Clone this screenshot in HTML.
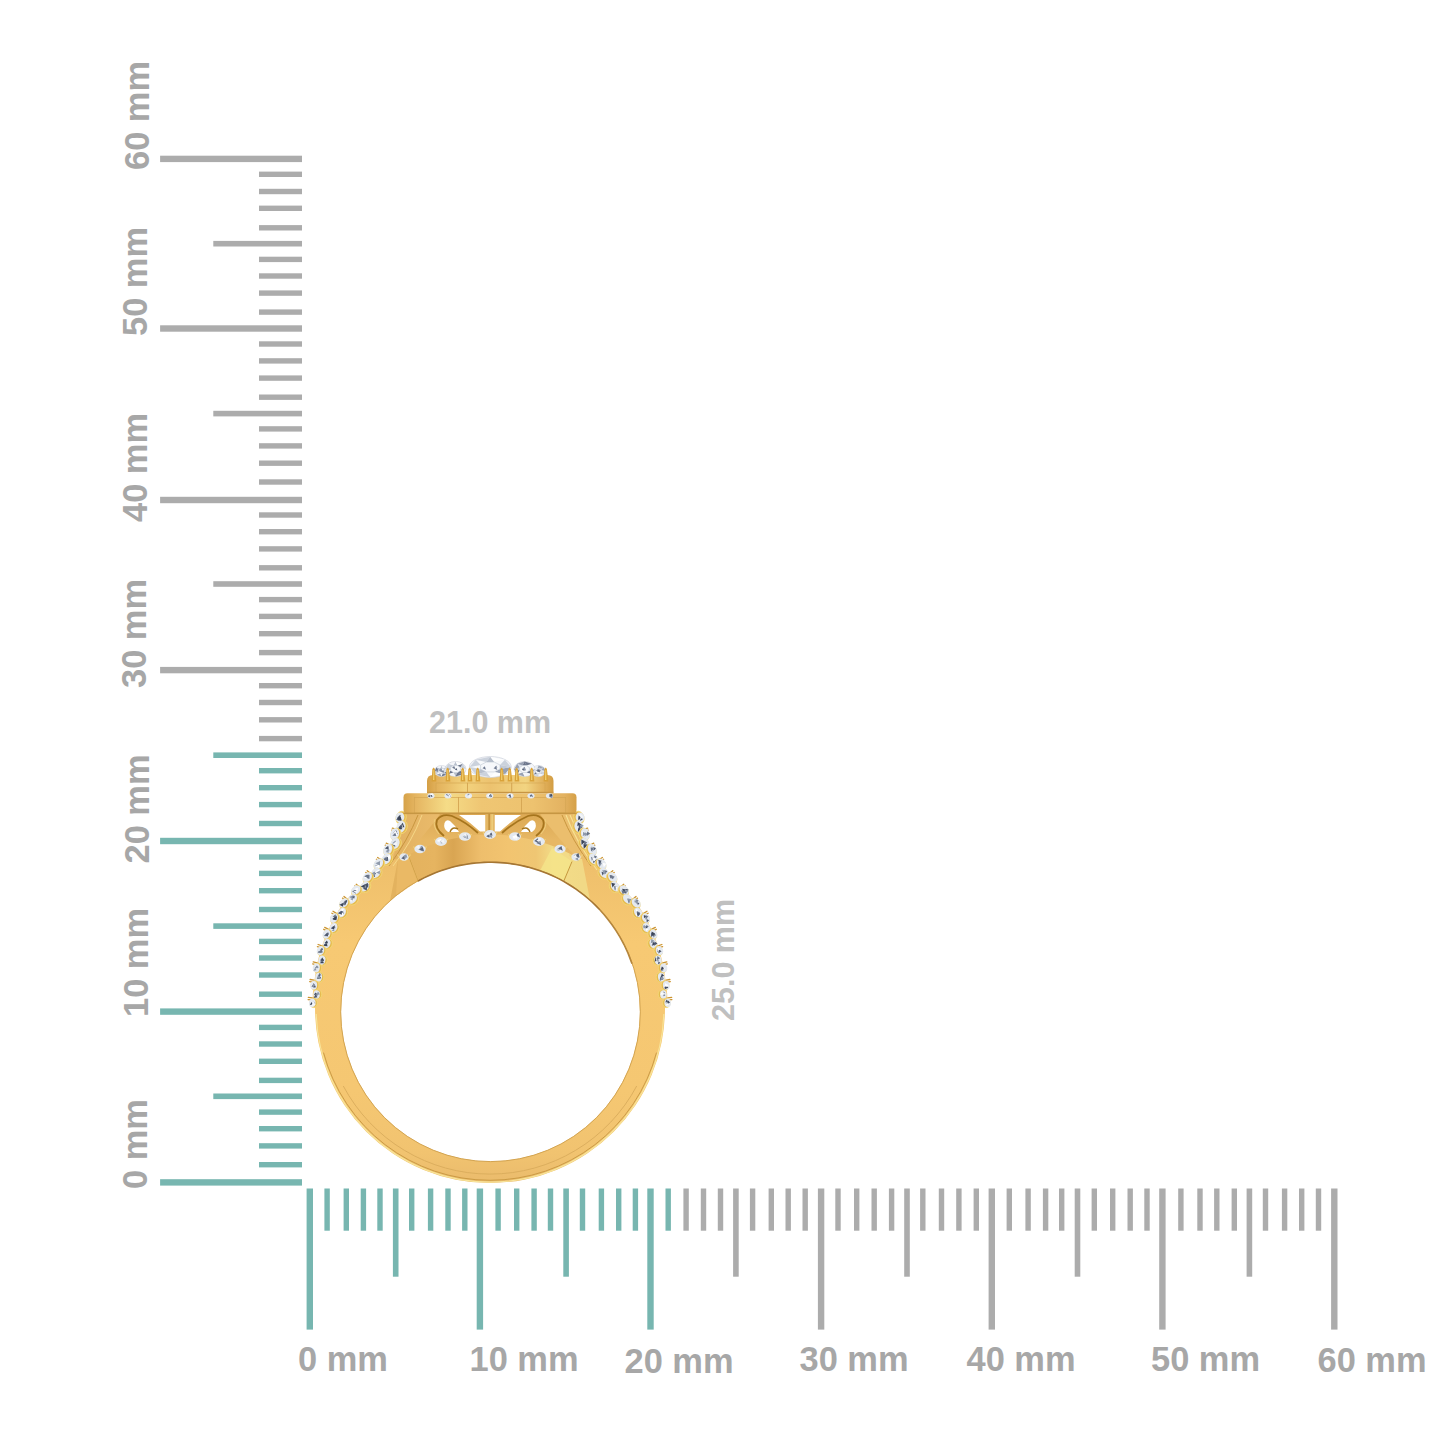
<!DOCTYPE html>
<html><head><meta charset="utf-8"><title>Ring size</title>
<style>
html,body{margin:0;padding:0;background:#fff;width:1445px;height:1445px;overflow:hidden}
svg{display:block}
.lb{font-family:"Liberation Sans",Arial,sans-serif;font-weight:bold;font-size:35.5px;fill:#a7a7a7}
.lb2{font-family:"Liberation Sans",Arial,sans-serif;font-weight:bold;font-size:30.5px;fill:#c0c0c0}
</style></head><body>
<svg width="1445" height="1445" viewBox="0 0 1445 1445">
<rect width="1445" height="1445" fill="#fff"/>
<g>
<rect x="160.1" y="1179.20" width="141.9" height="6.4" fill="#77b6b0"/>
<rect x="259.0" y="1162.00" width="43.0" height="5.4" fill="#77b6b0"/>
<rect x="259.0" y="1143.20" width="43.0" height="5.4" fill="#77b6b0"/>
<rect x="259.0" y="1126.00" width="43.0" height="5.4" fill="#77b6b0"/>
<rect x="259.0" y="1109.40" width="43.0" height="5.4" fill="#77b6b0"/>
<rect x="213.3" y="1093.50" width="88.7" height="5.6" fill="#77b6b0"/>
<rect x="259.0" y="1077.70" width="43.0" height="5.4" fill="#77b6b0"/>
<rect x="259.0" y="1058.60" width="43.0" height="5.4" fill="#77b6b0"/>
<rect x="259.0" y="1041.30" width="43.0" height="5.4" fill="#77b6b0"/>
<rect x="259.0" y="1024.70" width="43.0" height="5.4" fill="#77b6b0"/>
<rect x="160.1" y="1008.40" width="141.9" height="6.4" fill="#77b6b0"/>
<rect x="259.0" y="991.50" width="43.0" height="5.4" fill="#77b6b0"/>
<rect x="259.0" y="972.30" width="43.0" height="5.4" fill="#77b6b0"/>
<rect x="259.0" y="955.30" width="43.0" height="5.4" fill="#77b6b0"/>
<rect x="259.0" y="938.70" width="43.0" height="5.4" fill="#77b6b0"/>
<rect x="213.3" y="923.30" width="88.7" height="5.6" fill="#77b6b0"/>
<rect x="259.0" y="906.80" width="43.0" height="5.4" fill="#77b6b0"/>
<rect x="259.0" y="888.00" width="43.0" height="5.4" fill="#77b6b0"/>
<rect x="259.0" y="870.70" width="43.0" height="5.4" fill="#77b6b0"/>
<rect x="259.0" y="854.30" width="43.0" height="5.4" fill="#77b6b0"/>
<rect x="160.1" y="837.80" width="141.9" height="6.4" fill="#77b6b0"/>
<rect x="259.0" y="820.80" width="43.0" height="5.4" fill="#77b6b0"/>
<rect x="259.0" y="801.90" width="43.0" height="5.4" fill="#77b6b0"/>
<rect x="259.0" y="785.00" width="43.0" height="5.4" fill="#77b6b0"/>
<rect x="259.0" y="768.00" width="43.0" height="5.4" fill="#77b6b0"/>
<rect x="213.3" y="752.40" width="88.7" height="5.6" fill="#77b6b0"/>
<rect x="259.0" y="735.90" width="43.0" height="5.4" fill="#acacac"/>
<rect x="259.0" y="717.10" width="43.0" height="5.4" fill="#acacac"/>
<rect x="259.0" y="699.80" width="43.0" height="5.4" fill="#acacac"/>
<rect x="259.0" y="683.00" width="43.0" height="5.4" fill="#acacac"/>
<rect x="160.1" y="666.90" width="141.9" height="6.4" fill="#acacac"/>
<rect x="259.0" y="649.90" width="43.0" height="5.4" fill="#acacac"/>
<rect x="259.0" y="631.00" width="43.0" height="5.4" fill="#acacac"/>
<rect x="259.0" y="613.70" width="43.0" height="5.4" fill="#acacac"/>
<rect x="259.0" y="596.90" width="43.0" height="5.4" fill="#acacac"/>
<rect x="213.3" y="581.20" width="88.7" height="5.6" fill="#acacac"/>
<rect x="259.0" y="565.10" width="43.0" height="5.4" fill="#acacac"/>
<rect x="259.0" y="546.20" width="43.0" height="5.4" fill="#acacac"/>
<rect x="259.0" y="529.00" width="43.0" height="5.4" fill="#acacac"/>
<rect x="259.0" y="512.30" width="43.0" height="5.4" fill="#acacac"/>
<rect x="160.1" y="496.80" width="141.9" height="6.4" fill="#acacac"/>
<rect x="259.0" y="479.30" width="43.0" height="5.4" fill="#acacac"/>
<rect x="259.0" y="460.50" width="43.0" height="5.4" fill="#acacac"/>
<rect x="259.0" y="443.20" width="43.0" height="5.4" fill="#acacac"/>
<rect x="259.0" y="426.20" width="43.0" height="5.4" fill="#acacac"/>
<rect x="213.3" y="410.80" width="88.7" height="5.6" fill="#acacac"/>
<rect x="259.0" y="394.50" width="43.0" height="5.4" fill="#acacac"/>
<rect x="259.0" y="375.40" width="43.0" height="5.4" fill="#acacac"/>
<rect x="259.0" y="358.20" width="43.0" height="5.4" fill="#acacac"/>
<rect x="259.0" y="341.30" width="43.0" height="5.4" fill="#acacac"/>
<rect x="160.1" y="325.30" width="141.9" height="6.4" fill="#acacac"/>
<rect x="259.0" y="309.40" width="43.0" height="5.4" fill="#acacac"/>
<rect x="259.0" y="290.40" width="43.0" height="5.4" fill="#acacac"/>
<rect x="259.0" y="273.30" width="43.0" height="5.4" fill="#acacac"/>
<rect x="259.0" y="256.70" width="43.0" height="5.4" fill="#acacac"/>
<rect x="213.3" y="240.90" width="88.7" height="5.6" fill="#acacac"/>
<rect x="259.0" y="225.10" width="43.0" height="5.4" fill="#acacac"/>
<rect x="259.0" y="205.60" width="43.0" height="5.4" fill="#acacac"/>
<rect x="259.0" y="188.80" width="43.0" height="5.4" fill="#acacac"/>
<rect x="259.0" y="171.60" width="43.0" height="5.4" fill="#acacac"/>
<rect x="160.1" y="155.70" width="141.9" height="6.4" fill="#acacac"/>
<rect x="306.60" y="1188.5" width="6.4" height="141.1" fill="#77b6b0"/>
<rect x="324.40" y="1188.5" width="5.4" height="42.2" fill="#77b6b0"/>
<rect x="343.60" y="1188.5" width="5.4" height="42.2" fill="#77b6b0"/>
<rect x="360.70" y="1188.5" width="5.4" height="42.2" fill="#77b6b0"/>
<rect x="377.30" y="1188.5" width="5.4" height="42.2" fill="#77b6b0"/>
<rect x="392.90" y="1188.5" width="5.6" height="88.2" fill="#77b6b0"/>
<rect x="409.00" y="1188.5" width="5.4" height="42.2" fill="#77b6b0"/>
<rect x="427.90" y="1188.5" width="5.4" height="42.2" fill="#77b6b0"/>
<rect x="445.30" y="1188.5" width="5.4" height="42.2" fill="#77b6b0"/>
<rect x="462.10" y="1188.5" width="5.4" height="42.2" fill="#77b6b0"/>
<rect x="476.70" y="1188.5" width="6.4" height="141.1" fill="#77b6b0"/>
<rect x="495.40" y="1188.5" width="5.4" height="42.2" fill="#77b6b0"/>
<rect x="514.00" y="1188.5" width="5.4" height="42.2" fill="#77b6b0"/>
<rect x="531.40" y="1188.5" width="5.4" height="42.2" fill="#77b6b0"/>
<rect x="547.80" y="1188.5" width="5.4" height="42.2" fill="#77b6b0"/>
<rect x="563.30" y="1188.5" width="5.6" height="88.2" fill="#77b6b0"/>
<rect x="579.80" y="1188.5" width="5.4" height="42.2" fill="#77b6b0"/>
<rect x="598.70" y="1188.5" width="5.4" height="42.2" fill="#77b6b0"/>
<rect x="616.00" y="1188.5" width="5.4" height="42.2" fill="#77b6b0"/>
<rect x="632.70" y="1188.5" width="5.4" height="42.2" fill="#77b6b0"/>
<rect x="647.30" y="1188.5" width="6.4" height="141.1" fill="#77b6b0"/>
<rect x="665.50" y="1188.5" width="5.4" height="42.2" fill="#77b6b0"/>
<rect x="683.40" y="1188.5" width="5.4" height="42.2" fill="#acacac"/>
<rect x="700.80" y="1188.5" width="5.4" height="42.2" fill="#acacac"/>
<rect x="717.80" y="1188.5" width="5.4" height="42.2" fill="#acacac"/>
<rect x="733.10" y="1188.5" width="5.6" height="88.2" fill="#acacac"/>
<rect x="749.90" y="1188.5" width="5.4" height="42.2" fill="#acacac"/>
<rect x="768.60" y="1188.5" width="5.4" height="42.2" fill="#acacac"/>
<rect x="785.50" y="1188.5" width="5.4" height="42.2" fill="#acacac"/>
<rect x="802.50" y="1188.5" width="5.4" height="42.2" fill="#acacac"/>
<rect x="817.90" y="1188.5" width="6.4" height="141.1" fill="#acacac"/>
<rect x="835.30" y="1188.5" width="5.4" height="42.2" fill="#acacac"/>
<rect x="854.00" y="1188.5" width="5.4" height="42.2" fill="#acacac"/>
<rect x="871.50" y="1188.5" width="5.4" height="42.2" fill="#acacac"/>
<rect x="888.90" y="1188.5" width="5.4" height="42.2" fill="#acacac"/>
<rect x="904.20" y="1188.5" width="5.6" height="88.2" fill="#acacac"/>
<rect x="920.10" y="1188.5" width="5.4" height="42.2" fill="#acacac"/>
<rect x="938.80" y="1188.5" width="5.4" height="42.2" fill="#acacac"/>
<rect x="956.20" y="1188.5" width="5.4" height="42.2" fill="#acacac"/>
<rect x="973.60" y="1188.5" width="5.4" height="42.2" fill="#acacac"/>
<rect x="988.60" y="1188.5" width="6.4" height="141.1" fill="#acacac"/>
<rect x="1006.60" y="1188.5" width="5.4" height="42.2" fill="#acacac"/>
<rect x="1025.40" y="1188.5" width="5.4" height="42.2" fill="#acacac"/>
<rect x="1042.90" y="1188.5" width="5.4" height="42.2" fill="#acacac"/>
<rect x="1059.00" y="1188.5" width="5.4" height="42.2" fill="#acacac"/>
<rect x="1074.70" y="1188.5" width="5.6" height="88.2" fill="#acacac"/>
<rect x="1091.60" y="1188.5" width="5.4" height="42.2" fill="#acacac"/>
<rect x="1110.00" y="1188.5" width="5.4" height="42.2" fill="#acacac"/>
<rect x="1127.50" y="1188.5" width="5.4" height="42.2" fill="#acacac"/>
<rect x="1144.30" y="1188.5" width="5.4" height="42.2" fill="#acacac"/>
<rect x="1159.20" y="1188.5" width="6.4" height="141.1" fill="#acacac"/>
<rect x="1178.20" y="1188.5" width="5.4" height="42.2" fill="#acacac"/>
<rect x="1197.30" y="1188.5" width="5.4" height="42.2" fill="#acacac"/>
<rect x="1214.10" y="1188.5" width="5.4" height="42.2" fill="#acacac"/>
<rect x="1231.60" y="1188.5" width="5.4" height="42.2" fill="#acacac"/>
<rect x="1246.60" y="1188.5" width="5.6" height="88.2" fill="#acacac"/>
<rect x="1262.80" y="1188.5" width="5.4" height="42.2" fill="#acacac"/>
<rect x="1281.90" y="1188.5" width="5.4" height="42.2" fill="#acacac"/>
<rect x="1299.00" y="1188.5" width="5.4" height="42.2" fill="#acacac"/>
<rect x="1315.80" y="1188.5" width="5.4" height="42.2" fill="#acacac"/>
<rect x="1331.10" y="1188.5" width="6.4" height="141.1" fill="#acacac"/>
<text transform="translate(146.50,1189.00) rotate(-90) scale(0.97,1)" class="lb">0 mm</text>
<text transform="translate(147.50,1017.00) rotate(-90) scale(0.97,1)" class="lb">10 mm</text>
<text transform="translate(149.00,863.50) rotate(-90) scale(0.97,1)" class="lb">20 mm</text>
<text transform="translate(146.00,688.00) rotate(-90) scale(0.97,1)" class="lb">30 mm</text>
<text transform="translate(146.50,522.00) rotate(-90) scale(0.97,1)" class="lb">40 mm</text>
<text transform="translate(147.00,336.00) rotate(-90) scale(0.97,1)" class="lb">50 mm</text>
<text transform="translate(149.00,170.00) rotate(-90) scale(0.97,1)" class="lb">60 mm</text>
<text transform="translate(298.00,1371.00) scale(0.97,1)" class="lb">0 mm</text>
<text transform="translate(469.50,1371.00) scale(0.97,1)" class="lb">10 mm</text>
<text transform="translate(624.50,1373.00) scale(0.97,1)" class="lb">20 mm</text>
<text transform="translate(799.50,1370.50) scale(0.97,1)" class="lb">30 mm</text>
<text transform="translate(966.50,1370.50) scale(0.97,1)" class="lb">40 mm</text>
<text transform="translate(1151.00,1371.00) scale(0.97,1)" class="lb">50 mm</text>
<text transform="translate(1317.50,1372.00) scale(0.97,1)" class="lb">60 mm</text>
<text transform="translate(429.00,733.00) scale(1.0,1)" class="lb2">21.0 mm</text>
<text transform="translate(733.50,1021.00) rotate(-90) scale(1.0,1)" class="lb2">25.0 mm</text>
<defs>
<linearGradient id="gBody" x1="0" y1="814" x2="0" y2="1183" gradientUnits="userSpaceOnUse">
 <stop offset="0" stop-color="#e6b460"/>
 <stop offset="0.15" stop-color="#efc06c"/>
 <stop offset="0.35" stop-color="#f7c973"/>
 <stop offset="0.75" stop-color="#f5c772"/>
 <stop offset="0.92" stop-color="#f1c370"/>
 <stop offset="1" stop-color="#eabb6c"/>
</linearGradient>
<linearGradient id="gTier" x1="0" y1="0" x2="1" y2="0">
 <stop offset="0" stop-color="#d6a249"/>
 <stop offset="0.07" stop-color="#e5b561"/>
 <stop offset="0.25" stop-color="#f5dc87"/>
 <stop offset="0.45" stop-color="#efc673"/>
 <stop offset="0.75" stop-color="#edc26f"/>
 <stop offset="0.93" stop-color="#e3b261"/>
 <stop offset="1" stop-color="#d5a047"/>
</linearGradient>
<linearGradient id="gTier2" x1="0" y1="0" x2="1" y2="0">
 <stop offset="0" stop-color="#d49f45"/>
 <stop offset="0.08" stop-color="#e3b25c"/>
 <stop offset="0.3" stop-color="#f3d37e"/>
 <stop offset="0.5" stop-color="#ecc26f"/>
 <stop offset="0.78" stop-color="#f2d481"/>
 <stop offset="0.93" stop-color="#e1af5a"/>
 <stop offset="1" stop-color="#d29d43"/>
</linearGradient>
<linearGradient id="gInner" x1="398" y1="0" x2="582" y2="0" gradientUnits="userSpaceOnUse">
 <stop offset="0" stop-color="#e3b25e"/>
 <stop offset="0.2" stop-color="#e6b460"/>
 <stop offset="0.3" stop-color="#d9a552"/>
 <stop offset="0.45" stop-color="#eebe6c"/>
 <stop offset="0.6" stop-color="#f2c470"/>
 <stop offset="0.75" stop-color="#efc673"/>
 <stop offset="0.85" stop-color="#f3dc88"/>
 <stop offset="1" stop-color="#f1d986"/>
</linearGradient>
<linearGradient id="gGal" x1="0" y1="814" x2="0" y2="840" gradientUnits="userSpaceOnUse">
 <stop offset="0" stop-color="#dca954"/>
 <stop offset="1" stop-color="#e7b764"/>
</linearGradient>
<linearGradient id="gShL" x1="380" y1="0" x2="440" y2="0" gradientUnits="userSpaceOnUse">
 <stop offset="0" stop-color="#dfae5f"/>
 <stop offset="1" stop-color="#eabb6b"/>
</linearGradient>
</defs>
<path d="M405,814 C403.7,816.2 399.1,823.2 397.1,827.4 C395.1,831.6 394.8,835.3 393.2,839.2 C391.5,843.2 389.6,847.1 387.3,851.0 C385.0,854.9 382.2,859.0 379.4,862.8 C376.6,866.6 373.4,870.1 370.5,873.7 C367.5,877.4 364.7,881.2 361.5,884.7 C358.4,888.1 354.7,891.3 351.6,894.6 C348.4,898.0 345.1,901.2 342.4,904.8 C339.7,908.4 337.5,912.1 335.3,916.0 C333.1,919.9 331.0,924.1 329.2,928.2 C327.3,932.2 325.6,936.3 324.1,940.3 C322.6,944.3 321.3,948.4 320.1,952.4 C318.9,956.5 317.9,960.5 317.0,964.6 C316.2,968.6 315.6,972.7 315.0,976.7 C314.4,980.7 313.9,985.4 313.5,988.8 C313.1,992.1 312.6,993.7 312.8,996.9 C313.1,1000.1 314.6,1006.1 315.0,1008.0 A175,175 0 0 0 665.0,1008 L665.0,1008 C665.4,1006.1 666.9,1000.1 667.2,996.9 C667.4,993.7 666.9,992.1 666.5,988.8 C666.1,985.4 665.6,980.7 665.0,976.7 C664.4,972.7 663.8,968.6 663.0,964.6 C662.1,960.5 661.1,956.5 659.9,952.4 C658.7,948.4 657.4,944.3 655.9,940.3 C654.4,936.3 652.7,932.2 650.8,928.2 C649.0,924.1 646.9,919.9 644.7,916.0 C642.5,912.1 640.3,908.4 637.6,904.8 C634.9,901.2 631.6,898.0 628.4,894.6 C625.3,891.3 621.6,888.1 618.5,884.7 C615.3,881.2 612.5,877.4 609.5,873.7 C606.6,870.1 603.4,866.6 600.6,862.8 C597.8,859.0 595.0,854.9 592.7,851.0 C590.4,847.1 588.5,843.2 586.8,839.2 C585.2,835.3 584.9,831.6 582.9,827.4 C580.9,823.2 576.3,816.2 575.0,814.0 Z M341.0,1011.8 A149.5,149.5 0 1 0 640.0,1011.8 A149.5,149.5 0 1 0 341.0,1011.8 Z" fill="url(#gBody)" fill-rule="evenodd"/>
<path d="M405,814 L575,814 L582.0,859 C581.0,858.7 579.7,858.7 576.0,857.0 C572.3,855.3 566.2,851.6 560.0,849.0 C553.8,846.4 546.5,843.6 539.0,841.5 C531.5,839.4 523.2,837.7 515.0,836.5 C506.8,835.3 498.3,834.5 490.0,834.5 C481.7,834.5 473.2,835.3 465.0,836.5 C456.8,837.7 448.5,839.4 441.0,841.5 C433.5,843.6 426.2,846.4 420.0,849.0 C413.8,851.6 407.7,855.3 404.0,857.0 C400.3,858.7 399.0,858.7 398.0,859.0 Z" fill="url(#gGal)"/>
<path d="M405,814 L440,814 Q425,835 404,857 L392,860 Q400,840 405,814 Z" fill="url(#gShL)"/>
<path d="M575,814 L540,814 Q555,835 576,857 L588,860 Q580,840 575,814 Z" fill="#ebbe6d"/>
<path d="M398,859 C399.0,858.7 400.3,858.7 404.0,857.0 C407.7,855.3 413.8,851.6 420.0,849.0 C426.2,846.4 433.5,843.6 441.0,841.5 C448.5,839.4 456.8,837.7 465.0,836.5 C473.2,835.3 481.7,834.5 490.0,834.5 C498.3,834.5 506.8,835.3 515.0,836.5 C523.2,837.7 531.5,839.4 539.0,841.5 C546.5,843.6 553.8,846.4 560.0,849.0 C566.2,851.6 572.3,855.3 576.0,857.0 C579.7,858.7 581.0,858.7 582.0,859.0 L590,900.2 L590.0,900.2 L585.0,896.0 L580.0,892.1 L575.0,888.5 L570.0,885.2 L565.0,882.2 L560.0,879.4 L555.0,876.9 L550.0,874.7 L545.0,872.6 L540.0,870.7 L535.0,869.1 L530.0,867.6 L525.0,866.3 L520.0,865.2 L515.0,864.3 L510.0,863.6 L505.0,863.0 L500.0,862.6 L495.0,862.4 L490.0,862.3 L485.0,862.4 L480.0,862.7 L475.0,863.1 L470.0,863.7 L465.0,864.5 L460.0,865.4 L455.0,866.6 L450.0,867.9 L445.0,869.4 L440.0,871.1 L435.0,873.0 L430.0,875.1 L425.0,877.4 L420.0,880.0 L415.0,882.8 L410.0,885.8 L405.0,889.2 L400.0,892.8 L395.0,896.8 L390.0,901.1 Z" fill="url(#gInner)"/>
<path d="M552,848 L572,861.5 L563.5,881.3 L540,870.7 Z" fill="#f4e48a" opacity="0.85"/>
<path d="M572,861.5 L563.5,881.8" stroke="#c6983e" stroke-width="1"/>
<path d="M408,855 L418,881.6" stroke="#c6983e" stroke-width="1"/>
<path d="M398,859 L408,855 L418,881.1 L396,896.0 Z" fill="#edbc68" opacity="0.7"/>
<path d="M418,815 Q408,840 389,866" fill="none" stroke="#c4923a" stroke-width="0.9"/>
<path d="M422,815 Q412,842 393,866" fill="none" stroke="#f7db8c" stroke-width="0.9"/>
<path d="M562,815 Q572,840 591,866" fill="none" stroke="#c4923a" stroke-width="0.9"/>
<path d="M566,815 Q576,842 597,870" fill="none" stroke="#f7e393" stroke-width="1.1"/>
<path d="M570,815 Q581,842 602,873" fill="none" stroke="#f7e393" stroke-width="1.1"/>
<path d="M459,815 L485.5,815 L485.5,831.5 L480,831.5 Q471,823 459,815 Z" fill="#fff"/>
<path d="M521,815 L494.5,815 L494.5,831.5 L500,831.5 Q509,823 521,815 Z" fill="#fff"/>
<path d="M444.5,823 Q446,819 450,821 Q455,825 459,832 L448,832 Q443,829 444.5,823 Z" fill="#fff"/>
<path d="M535.5,823 Q534,819 530,821 Q525,825 521,832 L532,832 Q537,829 535.5,823 Z" fill="#fff"/>
<path d="M444,836 Q434,828 437,820 Q442,813 452,816 Q466,822 478,833" fill="none" stroke="#a6751d" stroke-width="1.8"/>
<path d="M439,834 Q432,826 435,819" fill="none" stroke="#efcd7a" stroke-width="1"/>
<path d="M450,832 Q452,826 458,829" fill="none" stroke="#a6751d" stroke-width="1.4"/>
<path d="M536,836 Q546,828 543,820 Q538,813 528,816 Q514,822 502,833" fill="none" stroke="#a6751d" stroke-width="1.8"/>
<path d="M541,834 Q548,826 545,819" fill="none" stroke="#efcd7a" stroke-width="1"/>
<path d="M530,832 Q528,826 522,829" fill="none" stroke="#a6751d" stroke-width="1.4"/>
<rect x="485.5" y="814" width="9" height="19" fill="#e5b865"/>
<rect x="488.5" y="814" width="1.2" height="19" fill="#b5822d"/>
<rect x="491.5" y="814" width="1.2" height="19" fill="#f1d483"/>
<circle cx="490.5" cy="1011.8" r="149.8" fill="none" stroke="#d3a451" stroke-width="1.0"/>
<path d="M418,881.1 L420,880.0 L424,877.9 L428,876.0 L432,874.2 L436,872.6 L440,871.1 L444,869.7 L448,868.5 L452,867.3 L456,866.3 L460,865.4 L464,864.7 L468,864.0 L472,863.4 L476,863.0 L480,862.7 L484,862.4 L488,862.3 L492,862.3 L496,862.4 L500,862.6 L504,862.9 L508,863.3 L512,863.9 L516,864.5 L520,865.2 L524,866.1 L528,867.1 L532,868.2 L536,869.4 L540,870.7 L544,872.2 L548,873.8 L552,875.5 L556,877.4 L560,879.4 L564,881.6 L568,884.0 L572,886.5 L576,889.2 L580,892.1 L584,895.1 L588,898.5 L592,902.0 L596,905.9 L600,910.0" fill="none" stroke="#a57634" stroke-width="1.6"/>
<path d="M600,910.0 L604,914.5 L608,919.4 L612,924.7 L616,930.6 L620,937.1 L624,944.5 L628,953.1 L632,963.6" fill="none" stroke="#b5863d" stroke-width="1.6"/>
<path d="M316.2,1014.1 A173.9,173.9 0 0 0 663.8,1014.1" fill="none" stroke="#f8e59a" stroke-width="1.1"/>
<path d="M323.5,1052.6 A172.4,172.4 0 0 0 656.5,1052.6" fill="none" stroke="#c69640" stroke-width="0.9"/>
<path d="M343.3,1086.0 A166.2,166.2 0 0 0 636.7,1086.0" fill="none" stroke="#d9ab5b" stroke-width="0.9"/>
<ellipse cx="401.1" cy="817.7" rx="6.6" ry="5.0" transform="rotate(107 401.1 817.7)" fill="#e6ba4f" stroke="#f2d877" stroke-width="0.8"/>
<g transform="translate(399.9,817.4) rotate(107)"><ellipse rx="5.0" ry="4.4" fill="#e4e9f0"/><path d="M-2.7,0.5 L0.5,-1.9 L1.7,2.6 Z" fill="#3c4558"/><path d="M-2.1,-0.4 L1.0,-2.8 L2.2,1.6 Z" fill="#ffffff"/><path d="M-2.0,0.4 L0.8,-1.7 L1.9,2.2 Z" fill="#4d576c"/><path d="M-1.5,0.7 L2.1,-2.0 L3.4,2.9 Z" fill="#3c4558"/><path d="M-0.5,-0.6 L2.7,-2.9 L3.8,1.4 Z" fill="#3c4558"/></g>
<ellipse cx="402.3" cy="827.2" rx="6.5" ry="4.9" transform="rotate(107 402.3 827.2)" fill="#e6ba4f" stroke="#f2d877" stroke-width="0.8"/>
<g transform="translate(401.0,826.8) rotate(107)"><ellipse rx="6.1" ry="4.4" fill="#e4e9f0"/><path d="M-4.3,-0.5 L-0.5,-3.4 L0.9,1.8 Z" fill="#3c4558"/><path d="M-2.8,-0.2 L-0.0,-2.3 L1.1,1.6 Z" fill="#ffffff"/><path d="M-1.6,0.6 L1.9,-2.0 L3.2,2.8 Z" fill="#4d576c"/><path d="M-0.0,1.0 L2.4,-0.9 L3.3,2.5 Z" fill="#3c4558"/><path d="M-2.1,-0.1 L0.1,-1.8 L0.9,1.3 Z" fill="#4d576c"/></g>
<path d="M392.3,828.1 L396.1,829.2" stroke="#cc942f" stroke-width="1.3" stroke-linecap="round"/>
<path d="M391.7,830.2 L395.5,831.3" stroke="#cc942f" stroke-width="1.3" stroke-linecap="round"/>
<ellipse cx="395.9" cy="834.4" rx="6.4" ry="4.9" transform="rotate(108 395.9 834.4)" fill="#e6ba4f" stroke="#f2d877" stroke-width="0.8"/>
<g transform="translate(394.7,834.0) rotate(108)"><ellipse rx="6.0" ry="4.3" fill="#e4e9f0"/><path d="M-4.6,0.0 L-1.2,-2.5 L0.1,2.2 Z" fill="#8f9aac"/><path d="M-3.5,-0.7 L-0.9,-2.6 L0.1,1.0 Z" fill="#4d576c"/><path d="M-2.6,-0.8 L0.4,-3.0 L1.6,1.2 Z" fill="#ffffff"/><path d="M-3.6,0.0 L-0.7,-2.1 L0.3,1.8 Z" fill="#ffffff"/><path d="M-1.4,-0.1 L1.4,-2.2 L2.4,1.7 Z" fill="#6a7589"/></g>
<ellipse cx="396.2" cy="844.1" rx="6.4" ry="4.8" transform="rotate(117 396.2 844.1)" fill="#e6ba4f" stroke="#f2d877" stroke-width="0.8"/>
<g transform="translate(395.0,843.5) rotate(117)"><ellipse rx="5.9" ry="4.3" fill="#e4e9f0"/><path d="M-0.5,1.1 L1.6,-0.5 L2.4,2.4 Z" fill="#f3f5f9"/><path d="M-0.7,0.7 L2.7,-1.8 L4.0,2.8 Z" fill="#6a7589"/><path d="M-2.9,0.9 L-0.1,-1.3 L1.0,2.7 Z" fill="#8f9aac"/><path d="M-1.3,0.2 L1.2,-1.7 L2.1,1.7 Z" fill="#f3f5f9"/><path d="M-2.7,-0.3 L0.6,-2.7 L1.8,1.7 Z" fill="#f3f5f9"/></g>
<path d="M386.2,843.2 L389.8,845.0" stroke="#cc942f" stroke-width="1.3" stroke-linecap="round"/>
<path d="M385.2,845.2 L388.8,847.0" stroke="#cc942f" stroke-width="1.3" stroke-linecap="round"/>
<ellipse cx="388.9" cy="850.2" rx="6.3" ry="4.8" transform="rotate(117 388.9 850.2)" fill="#e6ba4f" stroke="#f2d877" stroke-width="0.8"/>
<g transform="translate(387.7,849.6) rotate(117)"><ellipse rx="5.9" ry="4.2" fill="#e4e9f0"/><path d="M-4.3,-0.8 L-1.5,-2.9 L-0.5,0.9 Z" fill="#f3f5f9"/><path d="M-3.4,1.2 L-1.3,-0.4 L-0.6,2.4 Z" fill="#8f9aac"/><path d="M-3.5,1.3 L-0.7,-0.9 L0.4,3.1 Z" fill="#4d576c"/><path d="M-1.8,-0.5 L0.7,-2.3 L1.6,1.0 Z" fill="#8f9aac"/><path d="M-0.1,-0.7 L2.2,-2.4 L3.1,0.8 Z" fill="#8f9aac"/></g>
<ellipse cx="387.4" cy="859.6" rx="6.2" ry="4.7" transform="rotate(124 387.4 859.6)" fill="#e6ba4f" stroke="#f2d877" stroke-width="0.8"/>
<g transform="translate(386.3,858.9) rotate(124)"><ellipse rx="5.8" ry="4.2" fill="#e4e9f0"/><path d="M-5.5,-0.7 L-2.1,-3.2 L-0.8,1.4 Z" fill="#ffffff"/><path d="M-2.2,1.1 L0.4,-0.8 L1.3,2.8 Z" fill="#8f9aac"/><path d="M-1.0,-0.1 L1.3,-1.9 L2.2,1.3 Z" fill="#4d576c"/><path d="M-2.7,-0.2 L0.7,-2.7 L1.9,1.9 Z" fill="#4d576c"/><path d="M-2.0,0.2 L0.7,-1.8 L1.7,1.9 Z" fill="#6a7589"/></g>
<path d="M377.6,857.5 L381.0,859.7" stroke="#cc942f" stroke-width="1.3" stroke-linecap="round"/>
<path d="M376.4,859.3 L379.7,861.6" stroke="#cc942f" stroke-width="1.3" stroke-linecap="round"/>
<ellipse cx="379.4" cy="864.6" rx="6.1" ry="4.7" transform="rotate(129 379.4 864.6)" fill="#e6ba4f" stroke="#f2d877" stroke-width="0.8"/>
<g transform="translate(378.3,863.8) rotate(129)"><ellipse rx="5.7" ry="4.1" fill="#e4e9f0"/><path d="M-2.6,-0.6 L-0.4,-2.2 L0.4,0.8 Z" fill="#ffffff"/><path d="M-0.2,-0.5 L3.0,-2.9 L4.2,1.5 Z" fill="#8f9aac"/><path d="M-0.4,-1.2 L3.1,-3.7 L4.3,1.0 Z" fill="#ffffff"/><path d="M-2.8,0.7 L-0.7,-0.9 L0.1,2.0 Z" fill="#f3f5f9"/><path d="M-3.4,0.4 L0.2,-2.3 L1.5,2.6 Z" fill="#8f9aac"/></g>
<ellipse cx="376.8" cy="873.8" rx="6.0" ry="4.6" transform="rotate(129 376.8 873.8)" fill="#e6ba4f" stroke="#f2d877" stroke-width="0.8"/>
<g transform="translate(375.8,872.9) rotate(129)"><ellipse rx="5.6" ry="4.1" fill="#e4e9f0"/><path d="M-0.8,0.8 L1.2,-0.7 L2.0,2.1 Z" fill="#3c4558"/><path d="M-4.4,-0.6 L-0.9,-3.2 L0.4,1.6 Z" fill="#ffffff"/><path d="M0.7,0.3 L3.7,-1.9 L4.8,2.2 Z" fill="#4d576c"/><path d="M-4.3,-1.8 L-1.4,-4.0 L-0.3,0.1 Z" fill="#8f9aac"/><path d="M-0.6,1.5 L3.0,-1.2 L4.3,3.7 Z" fill="#8f9aac"/></g>
<path d="M367.2,870.7 L370.3,873.3" stroke="#cc942f" stroke-width="1.3" stroke-linecap="round"/>
<path d="M365.8,872.4 L368.9,875.0" stroke="#cc942f" stroke-width="1.3" stroke-linecap="round"/>
<ellipse cx="368.3" cy="878.1" rx="5.9" ry="4.6" transform="rotate(129 368.3 878.1)" fill="#e6ba4f" stroke="#f2d877" stroke-width="0.8"/>
<g transform="translate(367.3,877.3) rotate(129)"><ellipse rx="5.5" ry="4.0" fill="#e4e9f0"/><path d="M-2.8,0.1 L-0.7,-1.5 L0.1,1.5 Z" fill="#f3f5f9"/><path d="M-3.0,0.7 L0.2,-1.8 L1.5,2.7 Z" fill="#4d576c"/><path d="M-3.5,-0.1 L-0.0,-2.7 L1.3,2.1 Z" fill="#6a7589"/><path d="M-0.3,1.1 L1.7,-0.4 L2.4,2.4 Z" fill="#ffffff"/><path d="M-2.2,1.6 L-0.1,-0.0 L0.6,2.9 Z" fill="#6a7589"/></g>
<ellipse cx="365.7" cy="887.3" rx="5.9" ry="4.5" transform="rotate(129 365.7 887.3)" fill="#e6ba4f" stroke="#f2d877" stroke-width="0.8"/>
<g transform="translate(364.7,886.5) rotate(129)"><ellipse rx="5.4" ry="4.0" fill="#e4e9f0"/><path d="M-4.8,-0.3 L-2.3,-2.1 L-1.4,1.3 Z" fill="#4d576c"/><path d="M-4.4,-0.4 L-1.9,-2.2 L-1.0,1.1 Z" fill="#4d576c"/><path d="M-4.3,-1.3 L-1.2,-3.6 L-0.0,0.7 Z" fill="#4d576c"/><path d="M-1.4,-1.9 L1.7,-4.2 L2.9,0.1 Z" fill="#4d576c"/><path d="M-1.8,1.2 L1.3,-1.1 L2.5,3.1 Z" fill="#3c4558"/></g>
<path d="M356.2,884.3 L359.2,886.8" stroke="#cc942f" stroke-width="1.3" stroke-linecap="round"/>
<path d="M354.8,886.0 L357.9,888.5" stroke="#cc942f" stroke-width="1.3" stroke-linecap="round"/>
<ellipse cx="356.7" cy="891.0" rx="5.8" ry="4.5" transform="rotate(135 356.7 891.0)" fill="#e6ba4f" stroke="#f2d877" stroke-width="0.8"/>
<g transform="translate(355.8,890.1) rotate(135)"><ellipse rx="5.3" ry="3.9" fill="#e4e9f0"/><path d="M-1.2,-1.2 L1.0,-2.8 L1.8,0.2 Z" fill="#ffffff"/><path d="M-1.0,-0.3 L2.4,-2.8 L3.6,1.8 Z" fill="#6a7589"/><path d="M-0.4,-0.3 L1.8,-2.0 L2.7,1.1 Z" fill="#4d576c"/><path d="M-3.2,0.2 L-0.6,-1.8 L0.4,1.8 Z" fill="#ffffff"/><path d="M-1.3,-1.0 L1.6,-3.2 L2.7,0.8 Z" fill="#f3f5f9"/></g>
<ellipse cx="353.4" cy="899.9" rx="5.7" ry="4.4" transform="rotate(132 353.4 899.9)" fill="#e6ba4f" stroke="#f2d877" stroke-width="0.8"/>
<g transform="translate(352.4,899.0) rotate(132)"><ellipse rx="5.3" ry="3.9" fill="#e4e9f0"/><path d="M-0.6,0.8 L2.7,-1.6 L3.9,2.9 Z" fill="#f3f5f9"/><path d="M-1.6,-1.2 L0.5,-2.8 L1.3,0.1 Z" fill="#f3f5f9"/><path d="M-3.8,1.7 L-0.4,-0.9 L0.8,3.8 Z" fill="#8f9aac"/><path d="M-3.9,0.4 L-1.8,-1.1 L-1.1,1.7 Z" fill="#4d576c"/><path d="M-1.3,0.4 L0.8,-1.2 L1.6,1.7 Z" fill="#8f9aac"/></g>
<path d="M344.0,896.4 L347.0,899.1" stroke="#cc942f" stroke-width="1.3" stroke-linecap="round"/>
<path d="M342.5,898.1 L345.5,900.7" stroke="#cc942f" stroke-width="1.3" stroke-linecap="round"/>
<ellipse cx="344.7" cy="903.8" rx="5.6" ry="4.4" transform="rotate(132 344.7 903.8)" fill="#e6ba4f" stroke="#f2d877" stroke-width="0.8"/>
<g transform="translate(343.8,903.0) rotate(132)"><ellipse rx="5.2" ry="3.9" fill="#e4e9f0"/><path d="M-2.1,-0.5 L1.0,-2.8 L2.2,1.5 Z" fill="#8f9aac"/><path d="M-2.7,-0.8 L-0.0,-2.8 L1.0,0.9 Z" fill="#4d576c"/><path d="M0.3,0.3 L3.3,-2.0 L4.4,2.1 Z" fill="#3c4558"/><path d="M-4.8,-0.4 L-2.2,-2.2 L-1.3,1.2 Z" fill="#4d576c"/><path d="M-1.3,-0.6 L1.0,-2.2 L1.8,0.8 Z" fill="#6a7589"/></g>
<ellipse cx="342.9" cy="913.2" rx="5.5" ry="4.3" transform="rotate(122 342.9 913.2)" fill="#e6ba4f" stroke="#f2d877" stroke-width="0.8"/>
<g transform="translate(341.8,912.5) rotate(122)"><ellipse rx="5.1" ry="3.8" fill="#e4e9f0"/><path d="M-4.1,-0.0 L-1.8,-1.8 L-0.9,1.4 Z" fill="#ffffff"/><path d="M-3.0,0.2 L0.3,-2.2 L1.5,2.2 Z" fill="#6a7589"/><path d="M-0.6,-0.9 L2.5,-3.2 L3.6,1.0 Z" fill="#ffffff"/><path d="M-4.4,1.0 L-1.8,-0.9 L-0.9,2.6 Z" fill="#ffffff"/><path d="M-1.4,1.0 L1.8,-1.3 L2.9,3.0 Z" fill="#4d576c"/></g>
<path d="M333.0,911.3 L336.4,913.4" stroke="#cc942f" stroke-width="1.3" stroke-linecap="round"/>
<path d="M331.9,913.2 L335.2,915.3" stroke="#cc942f" stroke-width="1.3" stroke-linecap="round"/>
<ellipse cx="335.1" cy="918.7" rx="5.4" ry="4.3" transform="rotate(117 335.1 918.7)" fill="#e6ba4f" stroke="#f2d877" stroke-width="0.8"/>
<g transform="translate(334.0,918.1) rotate(117)"><ellipse rx="5.0" ry="3.8" fill="#e4e9f0"/><path d="M-3.4,-1.1 L-1.3,-2.7 L-0.6,0.1 Z" fill="#4d576c"/><path d="M-4.2,0.3 L-1.6,-1.7 L-0.6,1.9 Z" fill="#6a7589"/><path d="M-2.6,-1.2 L-0.1,-3.1 L0.9,0.4 Z" fill="#3c4558"/><path d="M-1.3,-0.2 L0.8,-1.8 L1.6,1.1 Z" fill="#3c4558"/><path d="M-1.8,-1.2 L0.9,-3.2 L1.9,0.4 Z" fill="#3c4558"/></g>
<ellipse cx="334.6" cy="928.2" rx="5.4" ry="4.2" transform="rotate(117 334.6 928.2)" fill="#e6ba4f" stroke="#f2d877" stroke-width="0.8"/>
<g transform="translate(333.5,927.6) rotate(117)"><ellipse rx="4.9" ry="3.7" fill="#e4e9f0"/><path d="M-3.7,0.5 L-1.2,-1.4 L-0.2,2.1 Z" fill="#ffffff"/><path d="M-1.6,0.7 L0.9,-1.2 L1.9,2.3 Z" fill="#8f9aac"/><path d="M-2.8,-0.0 L-0.3,-2.0 L0.7,1.6 Z" fill="#6a7589"/><path d="M0.8,-0.9 L2.9,-2.5 L3.7,0.4 Z" fill="#8f9aac"/><path d="M-1.5,0.3 L1.0,-1.5 L1.9,1.9 Z" fill="#3c4558"/></g>
<path d="M324.7,927.4 L328.2,929.2" stroke="#cc942f" stroke-width="1.3" stroke-linecap="round"/>
<path d="M323.7,929.3 L327.3,931.1" stroke="#cc942f" stroke-width="1.3" stroke-linecap="round"/>
<ellipse cx="327.7" cy="934.6" rx="5.3" ry="4.2" transform="rotate(113 327.7 934.6)" fill="#e6ba4f" stroke="#f2d877" stroke-width="0.8"/>
<g transform="translate(326.5,934.1) rotate(113)"><ellipse rx="4.8" ry="3.7" fill="#e4e9f0"/><path d="M-2.2,-0.9 L-0.1,-2.5 L0.6,0.4 Z" fill="#6a7589"/><path d="M-0.9,-1.9 L1.1,-3.4 L1.8,-0.7 Z" fill="#f3f5f9"/><path d="M-2.4,-0.7 L-0.2,-2.3 L0.6,0.6 Z" fill="#4d576c"/><path d="M-1.6,-0.1 L1.6,-2.5 L2.8,1.8 Z" fill="#8f9aac"/><path d="M-1.5,-0.3 L1.2,-2.4 L2.2,1.4 Z" fill="#4d576c"/></g>
<ellipse cx="328.1" cy="944.0" rx="5.2" ry="4.1" transform="rotate(108 328.1 944.0)" fill="#e6ba4f" stroke="#f2d877" stroke-width="0.8"/>
<g transform="translate(326.8,943.5) rotate(108)"><ellipse rx="4.8" ry="3.6" fill="#e4e9f0"/><path d="M-1.1,0.9 L1.3,-1.0 L2.3,2.4 Z" fill="#6a7589"/><path d="M-2.4,0.4 L-0.6,-1.0 L0.1,1.6 Z" fill="#6a7589"/><path d="M-0.1,0.2 L2.3,-1.6 L3.2,1.6 Z" fill="#3c4558"/><path d="M-2.8,0.8 L-0.6,-0.8 L0.2,2.2 Z" fill="#3c4558"/><path d="M0.5,1.3 L2.5,-0.2 L3.3,2.6 Z" fill="#3c4558"/></g>
<path d="M318.1,944.5 L321.9,945.8" stroke="#cc942f" stroke-width="1.3" stroke-linecap="round"/>
<path d="M317.4,946.6 L321.2,947.9" stroke="#cc942f" stroke-width="1.3" stroke-linecap="round"/>
<ellipse cx="321.7" cy="951.0" rx="5.1" ry="4.1" transform="rotate(108 321.7 951.0)" fill="#e6ba4f" stroke="#f2d877" stroke-width="0.8"/>
<g transform="translate(320.5,950.6) rotate(108)"><ellipse rx="4.7" ry="3.6" fill="#e4e9f0"/><path d="M-1.5,0.4 L1.6,-1.9 L2.7,2.2 Z" fill="#4d576c"/><path d="M-1.8,0.4 L0.5,-1.3 L1.4,1.9 Z" fill="#f3f5f9"/><path d="M-1.1,-0.6 L0.9,-2.1 L1.6,0.6 Z" fill="#ffffff"/><path d="M-3.2,-0.7 L-1.4,-2.1 L-0.7,0.5 Z" fill="#3c4558"/><path d="M-2.0,-0.5 L1.0,-2.8 L2.1,1.4 Z" fill="#6a7589"/></g>
<ellipse cx="323.1" cy="960.5" rx="5.0" ry="4.0" transform="rotate(104 323.1 960.5)" fill="#e6ba4f" stroke="#f2d877" stroke-width="0.8"/>
<g transform="translate(321.9,960.2) rotate(104)"><ellipse rx="4.6" ry="3.5" fill="#e4e9f0"/><path d="M-0.4,-0.5 L2.4,-2.7 L3.5,1.2 Z" fill="#3c4558"/><path d="M-2.2,-0.4 L-0.1,-1.9 L0.7,0.9 Z" fill="#3c4558"/><path d="M-2.9,0.2 L-0.4,-1.6 L0.5,1.8 Z" fill="#6a7589"/><path d="M-2.3,-0.2 L0.4,-2.2 L1.4,1.5 Z" fill="#3c4558"/><path d="M-0.6,-0.1 L1.4,-1.6 L2.1,1.1 Z" fill="#6a7589"/></g>
<path d="M313.2,961.8 L317.1,962.8" stroke="#cc942f" stroke-width="1.3" stroke-linecap="round"/>
<path d="M312.7,963.9 L316.5,964.9" stroke="#cc942f" stroke-width="1.3" stroke-linecap="round"/>
<ellipse cx="317.6" cy="968.2" rx="4.9" ry="4.0" transform="rotate(99 317.6 968.2)" fill="#e6ba4f" stroke="#f2d877" stroke-width="0.8"/>
<g transform="translate(316.3,967.9) rotate(99)"><ellipse rx="4.5" ry="3.5" fill="#e4e9f0"/><path d="M-2.5,-0.9 L-0.6,-2.3 L0.2,0.4 Z" fill="#8f9aac"/><path d="M-2.3,-0.0 L-0.1,-1.6 L0.7,1.3 Z" fill="#3c4558"/><path d="M-1.0,-0.0 L0.7,-1.3 L1.4,1.1 Z" fill="#ffffff"/><path d="M-2.4,-0.2 L-0.1,-1.9 L0.8,1.3 Z" fill="#8f9aac"/><path d="M0.1,1.1 L2.3,-0.6 L3.2,2.5 Z" fill="#8f9aac"/></g>
<ellipse cx="319.9" cy="977.4" rx="4.9" ry="3.9" transform="rotate(99 319.9 977.4)" fill="#e6ba4f" stroke="#f2d877" stroke-width="0.8"/>
<g transform="translate(318.6,977.2) rotate(99)"><ellipse rx="4.4" ry="3.4" fill="#e4e9f0"/><path d="M-4.5,-0.5 L-1.5,-2.8 L-0.4,1.3 Z" fill="#6a7589"/><path d="M-2.6,-1.9 L-0.5,-3.5 L0.3,-0.6 Z" fill="#f3f5f9"/><path d="M-2.3,-0.4 L0.7,-2.7 L1.8,1.4 Z" fill="#3c4558"/><path d="M-1.7,-0.2 L0.8,-2.1 L1.7,1.4 Z" fill="#6a7589"/><path d="M-2.2,0.1 L0.3,-1.8 L1.3,1.7 Z" fill="#8f9aac"/></g>
<path d="M310.1,979.5 L314.0,980.2" stroke="#cc942f" stroke-width="1.3" stroke-linecap="round"/>
<path d="M309.7,981.7 L313.7,982.3" stroke="#cc942f" stroke-width="1.3" stroke-linecap="round"/>
<ellipse cx="315.0" cy="985.5" rx="4.8" ry="3.9" transform="rotate(97 315.0 985.5)" fill="#e6ba4f" stroke="#f2d877" stroke-width="0.8"/>
<g transform="translate(313.7,985.3) rotate(97)"><ellipse rx="4.3" ry="3.4" fill="#e4e9f0"/><path d="M-0.3,-1.0 L1.7,-2.5 L2.5,0.2 Z" fill="#4d576c"/><path d="M-1.5,-0.2 L0.4,-1.6 L1.1,0.9 Z" fill="#6a7589"/><path d="M-3.0,0.2 L-0.1,-2.0 L1.0,2.1 Z" fill="#ffffff"/><path d="M-2.3,0.2 L0.6,-1.9 L1.6,2.0 Z" fill="#4d576c"/><path d="M-1.7,0.1 L0.4,-1.5 L1.2,1.5 Z" fill="#8f9aac"/></g>
<ellipse cx="317.9" cy="994.5" rx="4.7" ry="3.8" transform="rotate(95 317.9 994.5)" fill="#e6ba4f" stroke="#f2d877" stroke-width="0.8"/>
<g transform="translate(316.6,994.4) rotate(95)"><ellipse rx="4.2" ry="3.3" fill="#e4e9f0"/><path d="M-1.8,1.4 L0.2,-0.1 L0.9,2.6 Z" fill="#3c4558"/><path d="M0.4,0.9 L2.2,-0.4 L2.9,2.0 Z" fill="#ffffff"/><path d="M-1.3,0.1 L0.8,-1.5 L1.5,1.3 Z" fill="#4d576c"/><path d="M0.0,1.0 L2.8,-1.1 L3.8,2.7 Z" fill="#4d576c"/><path d="M-3.1,-1.2 L-0.3,-3.3 L0.7,0.5 Z" fill="#8f9aac"/></g>
<path d="M308.3,997.4 L312.3,997.8" stroke="#cc942f" stroke-width="1.3" stroke-linecap="round"/>
<path d="M308.1,999.6 L312.1,999.9" stroke="#cc942f" stroke-width="1.3" stroke-linecap="round"/>
<ellipse cx="313.6" cy="1003.0" rx="4.6" ry="3.8" transform="rotate(93 313.6 1003.0)" fill="#e6ba4f" stroke="#f2d877" stroke-width="0.8"/>
<g transform="translate(312.3,1002.9) rotate(93)"><ellipse rx="4.2" ry="3.3" fill="#e4e9f0"/><path d="M-1.5,-1.5 L0.7,-3.1 L1.6,-0.1 Z" fill="#6a7589"/><path d="M-1.5,-1.3 L0.1,-2.5 L0.8,-0.3 Z" fill="#f3f5f9"/><path d="M-0.6,-0.8 L1.9,-2.7 L2.9,0.8 Z" fill="#ffffff"/><path d="M-0.8,0.9 L1.5,-0.8 L2.3,2.3 Z" fill="#3c4558"/><path d="M-1.4,-1.1 L1.4,-3.2 L2.4,0.6 Z" fill="#f3f5f9"/></g>
<ellipse cx="578.9" cy="817.7" rx="6.6" ry="5.0" transform="rotate(73 578.9 817.7)" fill="#e6ba4f" stroke="#f2d877" stroke-width="0.8"/>
<g transform="translate(580.1,817.4) rotate(73)"><ellipse rx="5.0" ry="4.4" fill="#e4e9f0"/><path d="M0.2,-0.5 L2.5,-2.2 L3.4,0.9 Z" fill="#3c4558"/><path d="M-0.9,0.8 L1.4,-0.9 L2.3,2.2 Z" fill="#8f9aac"/><path d="M-4.3,-0.6 L-1.0,-3.0 L0.2,1.4 Z" fill="#f3f5f9"/><path d="M-2.2,0.9 L0.8,-1.3 L1.9,2.7 Z" fill="#3c4558"/><path d="M-2.3,-1.4 L0.7,-3.7 L1.9,0.5 Z" fill="#f3f5f9"/></g>
<ellipse cx="577.7" cy="827.2" rx="6.5" ry="4.9" transform="rotate(73 577.7 827.2)" fill="#e6ba4f" stroke="#f2d877" stroke-width="0.8"/>
<g transform="translate(579.0,826.8) rotate(73)"><ellipse rx="6.1" ry="4.4" fill="#e4e9f0"/><path d="M-5.0,-0.3 L-2.0,-2.5 L-1.0,1.5 Z" fill="#3c4558"/><path d="M-1.9,-0.6 L1.5,-3.2 L2.8,1.5 Z" fill="#4d576c"/><path d="M-2.4,-2.5 L0.5,-4.8 L1.6,-0.7 Z" fill="#8f9aac"/><path d="M1.0,1.1 L3.6,-0.8 L4.6,2.7 Z" fill="#3c4558"/><path d="M-3.5,-1.2 L-1.3,-2.8 L-0.4,0.2 Z" fill="#4d576c"/></g>
<path d="M587.7,828.1 L583.9,829.2" stroke="#cc942f" stroke-width="1.3" stroke-linecap="round"/>
<path d="M588.3,830.2 L584.5,831.3" stroke="#cc942f" stroke-width="1.3" stroke-linecap="round"/>
<ellipse cx="584.1" cy="834.4" rx="6.4" ry="4.9" transform="rotate(72 584.1 834.4)" fill="#e6ba4f" stroke="#f2d877" stroke-width="0.8"/>
<g transform="translate(585.3,834.0) rotate(72)"><ellipse rx="6.0" ry="4.3" fill="#e4e9f0"/><path d="M-3.7,1.5 L-0.4,-0.9 L0.8,3.6 Z" fill="#ffffff"/><path d="M-1.9,-0.1 L0.2,-1.7 L1.0,1.3 Z" fill="#6a7589"/><path d="M-1.2,-0.1 L1.2,-1.9 L2.1,1.4 Z" fill="#8f9aac"/><path d="M-2.7,1.4 L0.2,-0.8 L1.3,3.2 Z" fill="#8f9aac"/><path d="M-1.9,-2.6 L1.1,-4.8 L2.3,-0.7 Z" fill="#6a7589"/></g>
<ellipse cx="583.8" cy="844.1" rx="6.4" ry="4.8" transform="rotate(63 583.8 844.1)" fill="#e6ba4f" stroke="#f2d877" stroke-width="0.8"/>
<g transform="translate(585.0,843.5) rotate(63)"><ellipse rx="5.9" ry="4.3" fill="#e4e9f0"/><path d="M1.8,-0.3 L3.8,-1.9 L4.6,1.0 Z" fill="#8f9aac"/><path d="M-1.1,0.6 L2.7,-2.2 L4.1,3.0 Z" fill="#6a7589"/><path d="M-5.2,1.5 L-1.6,-1.2 L-0.2,3.8 Z" fill="#3c4558"/><path d="M-2.9,-0.3 L0.1,-2.5 L1.2,1.6 Z" fill="#6a7589"/><path d="M-0.2,1.6 L2.7,-0.6 L3.8,3.4 Z" fill="#3c4558"/></g>
<path d="M593.8,843.2 L590.2,845.0" stroke="#cc942f" stroke-width="1.3" stroke-linecap="round"/>
<path d="M594.8,845.2 L591.2,847.0" stroke="#cc942f" stroke-width="1.3" stroke-linecap="round"/>
<ellipse cx="591.1" cy="850.2" rx="6.3" ry="4.8" transform="rotate(63 591.1 850.2)" fill="#e6ba4f" stroke="#f2d877" stroke-width="0.8"/>
<g transform="translate(592.3,849.6) rotate(63)"><ellipse rx="5.9" ry="4.2" fill="#e4e9f0"/><path d="M-3.0,-0.7 L0.6,-3.4 L1.9,1.5 Z" fill="#8f9aac"/><path d="M-3.4,0.4 L0.3,-2.4 L1.6,2.6 Z" fill="#f3f5f9"/><path d="M-2.9,0.3 L-0.6,-1.4 L0.2,1.7 Z" fill="#6a7589"/><path d="M-2.4,0.3 L0.2,-1.6 L1.1,2.0 Z" fill="#6a7589"/><path d="M-1.7,-2.2 L0.6,-3.8 L1.4,-0.8 Z" fill="#4d576c"/></g>
<ellipse cx="592.6" cy="859.6" rx="6.2" ry="4.7" transform="rotate(56 592.6 859.6)" fill="#e6ba4f" stroke="#f2d877" stroke-width="0.8"/>
<g transform="translate(593.7,858.9) rotate(56)"><ellipse rx="5.8" ry="4.2" fill="#e4e9f0"/><path d="M-2.6,-2.2 L-0.1,-4.1 L0.8,-0.7 Z" fill="#6a7589"/><path d="M-1.2,0.4 L2.3,-2.2 L3.6,2.6 Z" fill="#3c4558"/><path d="M-2.9,0.9 L-0.4,-0.9 L0.5,2.5 Z" fill="#3c4558"/><path d="M-2.4,0.3 L0.7,-2.0 L1.9,2.3 Z" fill="#f3f5f9"/><path d="M-0.8,-0.3 L1.6,-2.1 L2.5,1.2 Z" fill="#ffffff"/></g>
<path d="M602.4,857.5 L599.0,859.7" stroke="#cc942f" stroke-width="1.3" stroke-linecap="round"/>
<path d="M603.6,859.3 L600.3,861.6" stroke="#cc942f" stroke-width="1.3" stroke-linecap="round"/>
<ellipse cx="600.6" cy="864.6" rx="6.1" ry="4.7" transform="rotate(51 600.6 864.6)" fill="#e6ba4f" stroke="#f2d877" stroke-width="0.8"/>
<g transform="translate(601.7,863.8) rotate(51)"><ellipse rx="5.7" ry="4.1" fill="#e4e9f0"/><path d="M-3.5,1.8 L-0.3,-0.7 L1.0,3.8 Z" fill="#8f9aac"/><path d="M-0.2,-1.4 L2.9,-3.6 L4.0,0.5 Z" fill="#ffffff"/><path d="M-4.0,-0.6 L-1.9,-2.1 L-1.1,0.7 Z" fill="#f3f5f9"/><path d="M-3.5,0.9 L-1.3,-0.8 L-0.5,2.2 Z" fill="#6a7589"/><path d="M-5.3,0.2 L-2.4,-2.0 L-1.3,2.0 Z" fill="#4d576c"/></g>
<ellipse cx="603.2" cy="873.8" rx="6.0" ry="4.6" transform="rotate(51 603.2 873.8)" fill="#e6ba4f" stroke="#f2d877" stroke-width="0.8"/>
<g transform="translate(604.2,872.9) rotate(51)"><ellipse rx="5.6" ry="4.1" fill="#e4e9f0"/><path d="M-3.2,0.2 L-0.7,-1.7 L0.2,1.7 Z" fill="#f3f5f9"/><path d="M-2.1,-1.7 L0.5,-3.6 L1.5,-0.0 Z" fill="#4d576c"/><path d="M-2.6,1.4 L0.0,-0.6 L1.0,3.0 Z" fill="#4d576c"/><path d="M-2.4,-0.3 L0.4,-2.4 L1.4,1.4 Z" fill="#8f9aac"/><path d="M-3.5,-0.4 L-1.0,-2.3 L-0.0,1.2 Z" fill="#8f9aac"/></g>
<path d="M612.8,870.7 L609.7,873.3" stroke="#cc942f" stroke-width="1.3" stroke-linecap="round"/>
<path d="M614.2,872.4 L611.1,875.0" stroke="#cc942f" stroke-width="1.3" stroke-linecap="round"/>
<ellipse cx="611.7" cy="878.1" rx="5.9" ry="4.6" transform="rotate(51 611.7 878.1)" fill="#e6ba4f" stroke="#f2d877" stroke-width="0.8"/>
<g transform="translate(612.7,877.3) rotate(51)"><ellipse rx="5.5" ry="4.0" fill="#e4e9f0"/><path d="M-3.5,0.6 L-1.2,-1.1 L-0.3,2.1 Z" fill="#4d576c"/><path d="M-2.0,0.3 L0.3,-1.4 L1.1,1.8 Z" fill="#6a7589"/><path d="M-1.2,-0.6 L0.8,-2.1 L1.6,0.6 Z" fill="#8f9aac"/><path d="M-3.6,1.2 L-1.3,-0.5 L-0.5,2.7 Z" fill="#6a7589"/><path d="M-2.0,0.3 L0.4,-1.5 L1.2,1.8 Z" fill="#6a7589"/></g>
<ellipse cx="614.3" cy="887.3" rx="5.9" ry="4.5" transform="rotate(51 614.3 887.3)" fill="#e6ba4f" stroke="#f2d877" stroke-width="0.8"/>
<g transform="translate(615.3,886.5) rotate(51)"><ellipse rx="5.4" ry="4.0" fill="#e4e9f0"/><path d="M-0.9,0.9 L2.0,-1.3 L3.1,2.8 Z" fill="#4d576c"/><path d="M0.6,1.2 L3.1,-0.7 L4.0,2.8 Z" fill="#f3f5f9"/><path d="M-5.4,0.8 L-2.1,-1.7 L-0.9,2.8 Z" fill="#3c4558"/><path d="M-1.3,0.8 L1.9,-1.5 L3.0,2.8 Z" fill="#8f9aac"/><path d="M0.2,-0.3 L2.2,-1.8 L3.0,1.0 Z" fill="#ffffff"/></g>
<path d="M623.8,884.3 L620.8,886.8" stroke="#cc942f" stroke-width="1.3" stroke-linecap="round"/>
<path d="M625.2,886.0 L622.1,888.5" stroke="#cc942f" stroke-width="1.3" stroke-linecap="round"/>
<ellipse cx="623.3" cy="891.0" rx="5.8" ry="4.5" transform="rotate(45 623.3 891.0)" fill="#e6ba4f" stroke="#f2d877" stroke-width="0.8"/>
<g transform="translate(624.2,890.1) rotate(45)"><ellipse rx="5.3" ry="3.9" fill="#e4e9f0"/><path d="M0.2,-1.8 L2.5,-3.5 L3.4,-0.4 Z" fill="#3c4558"/><path d="M-2.5,0.5 L1.0,-2.0 L2.3,2.7 Z" fill="#3c4558"/><path d="M0.0,-0.6 L3.0,-2.8 L4.1,1.2 Z" fill="#8f9aac"/><path d="M0.8,1.0 L2.7,-0.5 L3.4,2.1 Z" fill="#4d576c"/><path d="M-1.9,2.2 L1.1,-0.0 L2.1,4.0 Z" fill="#6a7589"/></g>
<ellipse cx="626.6" cy="899.9" rx="5.7" ry="4.4" transform="rotate(48 626.6 899.9)" fill="#e6ba4f" stroke="#f2d877" stroke-width="0.8"/>
<g transform="translate(627.6,899.0) rotate(48)"><ellipse rx="5.3" ry="3.9" fill="#e4e9f0"/><path d="M-0.0,-0.4 L2.7,-2.4 L3.7,1.3 Z" fill="#8f9aac"/><path d="M-1.7,-0.4 L0.3,-1.9 L1.1,0.8 Z" fill="#ffffff"/><path d="M-0.9,-0.2 L1.3,-1.9 L2.2,1.2 Z" fill="#ffffff"/><path d="M-0.7,0.0 L2.7,-2.6 L4.0,2.1 Z" fill="#6a7589"/><path d="M-0.4,-0.4 L2.9,-2.8 L4.1,1.6 Z" fill="#8f9aac"/></g>
<path d="M636.0,896.4 L633.0,899.1" stroke="#cc942f" stroke-width="1.3" stroke-linecap="round"/>
<path d="M637.5,898.1 L634.5,900.7" stroke="#cc942f" stroke-width="1.3" stroke-linecap="round"/>
<ellipse cx="635.3" cy="903.8" rx="5.6" ry="4.4" transform="rotate(48 635.3 903.8)" fill="#e6ba4f" stroke="#f2d877" stroke-width="0.8"/>
<g transform="translate(636.2,903.0) rotate(48)"><ellipse rx="5.2" ry="3.9" fill="#e4e9f0"/><path d="M-3.2,-0.2 L-1.3,-1.6 L-0.6,1.0 Z" fill="#8f9aac"/><path d="M-1.7,-0.8 L0.2,-2.2 L0.9,0.4 Z" fill="#8f9aac"/><path d="M0.1,-1.0 L2.1,-2.5 L2.8,0.2 Z" fill="#4d576c"/><path d="M-3.1,-1.9 L-0.9,-3.5 L-0.1,-0.5 Z" fill="#3c4558"/><path d="M-2.6,-1.6 L-0.2,-3.4 L0.7,-0.1 Z" fill="#8f9aac"/></g>
<ellipse cx="637.1" cy="913.2" rx="5.5" ry="4.3" transform="rotate(58 637.1 913.2)" fill="#e6ba4f" stroke="#f2d877" stroke-width="0.8"/>
<g transform="translate(638.2,912.5) rotate(58)"><ellipse rx="5.1" ry="3.8" fill="#e4e9f0"/><path d="M-1.4,1.8 L1.5,-0.5 L2.6,3.6 Z" fill="#ffffff"/><path d="M-0.1,0.5 L2.0,-1.1 L2.8,1.8 Z" fill="#4d576c"/><path d="M-2.1,0.6 L0.9,-1.6 L2.0,2.5 Z" fill="#6a7589"/><path d="M-0.5,0.9 L2.2,-1.1 L3.3,2.7 Z" fill="#4d576c"/><path d="M-4.2,0.2 L-2.3,-1.2 L-1.6,1.4 Z" fill="#ffffff"/></g>
<path d="M647.0,911.3 L643.6,913.4" stroke="#cc942f" stroke-width="1.3" stroke-linecap="round"/>
<path d="M648.1,913.2 L644.8,915.3" stroke="#cc942f" stroke-width="1.3" stroke-linecap="round"/>
<ellipse cx="644.9" cy="918.7" rx="5.4" ry="4.3" transform="rotate(63 644.9 918.7)" fill="#e6ba4f" stroke="#f2d877" stroke-width="0.8"/>
<g transform="translate(646.0,918.1) rotate(63)"><ellipse rx="5.0" ry="3.8" fill="#e4e9f0"/><path d="M-0.8,0.8 L1.3,-0.8 L2.1,2.1 Z" fill="#ffffff"/><path d="M-1.2,0.2 L0.7,-1.2 L1.4,1.4 Z" fill="#8f9aac"/><path d="M-3.8,0.5 L-1.5,-1.2 L-0.7,1.9 Z" fill="#3c4558"/><path d="M1.1,-0.0 L3.4,-1.8 L4.3,1.4 Z" fill="#4d576c"/><path d="M-2.9,-1.0 L-0.3,-2.9 L0.6,0.5 Z" fill="#6a7589"/></g>
<ellipse cx="645.4" cy="928.2" rx="5.4" ry="4.2" transform="rotate(63 645.4 928.2)" fill="#e6ba4f" stroke="#f2d877" stroke-width="0.8"/>
<g transform="translate(646.5,927.6) rotate(63)"><ellipse rx="4.9" ry="3.7" fill="#e4e9f0"/><path d="M-2.4,-0.8 L-0.1,-2.6 L0.8,0.6 Z" fill="#6a7589"/><path d="M-1.9,0.1 L-0.0,-1.3 L0.7,1.3 Z" fill="#3c4558"/><path d="M-3.2,1.7 L-1.2,0.2 L-0.5,2.9 Z" fill="#4d576c"/><path d="M-3.4,1.2 L-1.1,-0.5 L-0.3,2.6 Z" fill="#8f9aac"/><path d="M0.3,0.9 L2.4,-0.7 L3.1,2.1 Z" fill="#ffffff"/></g>
<path d="M655.3,927.4 L651.8,929.2" stroke="#cc942f" stroke-width="1.3" stroke-linecap="round"/>
<path d="M656.3,929.3 L652.7,931.1" stroke="#cc942f" stroke-width="1.3" stroke-linecap="round"/>
<ellipse cx="652.3" cy="934.6" rx="5.3" ry="4.2" transform="rotate(67 652.3 934.6)" fill="#e6ba4f" stroke="#f2d877" stroke-width="0.8"/>
<g transform="translate(653.5,934.1) rotate(67)"><ellipse rx="4.8" ry="3.7" fill="#e4e9f0"/><path d="M-1.1,-0.3 L1.2,-2.0 L2.1,1.2 Z" fill="#8f9aac"/><path d="M-0.9,0.2 L2.0,-2.0 L3.2,2.0 Z" fill="#8f9aac"/><path d="M-1.1,0.1 L0.8,-1.3 L1.5,1.2 Z" fill="#3c4558"/><path d="M-2.4,1.7 L0.7,-0.6 L1.8,3.6 Z" fill="#6a7589"/><path d="M-3.1,0.7 L0.1,-1.7 L1.2,2.6 Z" fill="#3c4558"/></g>
<ellipse cx="651.9" cy="944.0" rx="5.2" ry="4.1" transform="rotate(72 651.9 944.0)" fill="#e6ba4f" stroke="#f2d877" stroke-width="0.8"/>
<g transform="translate(653.2,943.5) rotate(72)"><ellipse rx="4.8" ry="3.6" fill="#e4e9f0"/><path d="M-1.8,1.6 L0.4,-0.0 L1.2,3.0 Z" fill="#6a7589"/><path d="M-2.6,1.5 L0.0,-0.4 L1.0,3.2 Z" fill="#f3f5f9"/><path d="M-1.8,-0.1 L1.1,-2.3 L2.2,1.7 Z" fill="#3c4558"/><path d="M-5.0,0.3 L-1.9,-2.0 L-0.8,2.3 Z" fill="#8f9aac"/><path d="M-1.5,-1.9 L1.4,-4.1 L2.5,-0.1 Z" fill="#4d576c"/></g>
<path d="M661.9,944.5 L658.1,945.8" stroke="#cc942f" stroke-width="1.3" stroke-linecap="round"/>
<path d="M662.6,946.6 L658.8,947.9" stroke="#cc942f" stroke-width="1.3" stroke-linecap="round"/>
<ellipse cx="658.3" cy="951.0" rx="5.1" ry="4.1" transform="rotate(72 658.3 951.0)" fill="#e6ba4f" stroke="#f2d877" stroke-width="0.8"/>
<g transform="translate(659.5,950.6) rotate(72)"><ellipse rx="4.7" ry="3.6" fill="#e4e9f0"/><path d="M-1.5,-0.2 L1.3,-2.4 L2.4,1.6 Z" fill="#f3f5f9"/><path d="M-2.1,1.5 L-0.2,0.0 L0.5,2.7 Z" fill="#4d576c"/><path d="M-2.2,0.7 L0.1,-1.0 L0.9,2.1 Z" fill="#ffffff"/><path d="M-1.4,0.3 L1.3,-1.8 L2.4,2.0 Z" fill="#4d576c"/><path d="M-3.4,0.8 L-1.0,-1.0 L-0.1,2.3 Z" fill="#ffffff"/></g>
<ellipse cx="656.9" cy="960.5" rx="5.0" ry="4.0" transform="rotate(76 656.9 960.5)" fill="#e6ba4f" stroke="#f2d877" stroke-width="0.8"/>
<g transform="translate(658.1,960.2) rotate(76)"><ellipse rx="4.6" ry="3.5" fill="#e4e9f0"/><path d="M-3.4,1.8 L-0.5,-0.4 L0.6,3.7 Z" fill="#3c4558"/><path d="M-1.4,0.3 L0.4,-1.0 L1.1,1.5 Z" fill="#8f9aac"/><path d="M1.2,-0.1 L3.2,-1.6 L3.9,1.1 Z" fill="#4d576c"/><path d="M-3.5,0.7 L-0.9,-1.3 L0.1,2.3 Z" fill="#f3f5f9"/><path d="M-4.2,-0.4 L-1.4,-2.5 L-0.4,1.3 Z" fill="#6a7589"/></g>
<path d="M666.8,961.8 L662.9,962.8" stroke="#cc942f" stroke-width="1.3" stroke-linecap="round"/>
<path d="M667.3,963.9 L663.5,964.9" stroke="#cc942f" stroke-width="1.3" stroke-linecap="round"/>
<ellipse cx="662.4" cy="968.2" rx="4.9" ry="4.0" transform="rotate(81 662.4 968.2)" fill="#e6ba4f" stroke="#f2d877" stroke-width="0.8"/>
<g transform="translate(663.7,967.9) rotate(81)"><ellipse rx="4.5" ry="3.5" fill="#e4e9f0"/><path d="M-2.1,1.2 L0.1,-0.4 L0.9,2.6 Z" fill="#f3f5f9"/><path d="M-1.5,1.0 L0.4,-0.4 L1.1,2.2 Z" fill="#4d576c"/><path d="M-0.5,1.5 L2.0,-0.3 L2.9,3.1 Z" fill="#6a7589"/><path d="M-0.7,0.3 L1.3,-1.3 L2.0,1.5 Z" fill="#ffffff"/><path d="M-1.7,1.7 L0.9,-0.2 L1.9,3.3 Z" fill="#3c4558"/></g>
<ellipse cx="660.1" cy="977.4" rx="4.9" ry="3.9" transform="rotate(81 660.1 977.4)" fill="#e6ba4f" stroke="#f2d877" stroke-width="0.8"/>
<g transform="translate(661.4,977.2) rotate(81)"><ellipse rx="4.4" ry="3.4" fill="#e4e9f0"/><path d="M-1.0,0.6 L1.8,-1.4 L2.8,2.4 Z" fill="#8f9aac"/><path d="M-1.3,-0.1 L0.8,-1.7 L1.6,1.2 Z" fill="#3c4558"/><path d="M-0.5,0.4 L2.3,-1.7 L3.3,2.1 Z" fill="#4d576c"/><path d="M-1.1,-0.4 L1.7,-2.5 L2.8,1.4 Z" fill="#8f9aac"/><path d="M-3.6,-1.0 L-1.0,-2.9 L-0.1,0.6 Z" fill="#3c4558"/></g>
<path d="M669.9,979.5 L666.0,980.2" stroke="#cc942f" stroke-width="1.3" stroke-linecap="round"/>
<path d="M670.3,981.7 L666.3,982.3" stroke="#cc942f" stroke-width="1.3" stroke-linecap="round"/>
<ellipse cx="665.0" cy="985.5" rx="4.8" ry="3.9" transform="rotate(83 665.0 985.5)" fill="#e6ba4f" stroke="#f2d877" stroke-width="0.8"/>
<g transform="translate(666.3,985.3) rotate(83)"><ellipse rx="4.3" ry="3.4" fill="#e4e9f0"/><path d="M-0.6,0.8 L1.9,-1.1 L2.8,2.3 Z" fill="#4d576c"/><path d="M-0.3,0.2 L1.4,-1.1 L2.1,1.2 Z" fill="#6a7589"/><path d="M-0.2,0.4 L2.6,-1.8 L3.7,2.2 Z" fill="#3c4558"/><path d="M-1.1,-0.8 L1.0,-2.4 L1.8,0.5 Z" fill="#ffffff"/><path d="M-2.3,0.5 L0.4,-1.5 L1.4,2.2 Z" fill="#ffffff"/></g>
<ellipse cx="662.1" cy="994.5" rx="4.7" ry="3.8" transform="rotate(85 662.1 994.5)" fill="#e6ba4f" stroke="#f2d877" stroke-width="0.8"/>
<g transform="translate(663.4,994.4) rotate(85)"><ellipse rx="4.2" ry="3.3" fill="#e4e9f0"/><path d="M-3.2,0.1 L-0.5,-1.9 L0.5,1.8 Z" fill="#f3f5f9"/><path d="M-2.9,-0.4 L-1.2,-1.7 L-0.5,0.7 Z" fill="#4d576c"/><path d="M-2.9,0.4 L0.1,-1.8 L1.2,2.2 Z" fill="#f3f5f9"/><path d="M-2.4,1.8 L-0.4,0.3 L0.4,3.1 Z" fill="#ffffff"/><path d="M-0.3,-0.6 L1.3,-1.8 L1.9,0.4 Z" fill="#6a7589"/></g>
<path d="M671.7,997.4 L667.7,997.8" stroke="#cc942f" stroke-width="1.3" stroke-linecap="round"/>
<path d="M671.9,999.6 L667.9,999.9" stroke="#cc942f" stroke-width="1.3" stroke-linecap="round"/>
<ellipse cx="666.4" cy="1003.0" rx="4.6" ry="3.8" transform="rotate(87 666.4 1003.0)" fill="#e6ba4f" stroke="#f2d877" stroke-width="0.8"/>
<g transform="translate(667.7,1002.9) rotate(87)"><ellipse rx="4.2" ry="3.3" fill="#e4e9f0"/><path d="M-2.3,-0.7 L-0.1,-2.3 L0.6,0.6 Z" fill="#3c4558"/><path d="M-1.8,0.2 L-0.1,-1.1 L0.6,1.3 Z" fill="#3c4558"/><path d="M-3.5,1.0 L-1.3,-0.7 L-0.5,2.4 Z" fill="#4d576c"/><path d="M-1.1,0.2 L0.7,-1.1 L1.3,1.3 Z" fill="#8f9aac"/><path d="M-0.2,0.7 L1.9,-0.9 L2.7,2.0 Z" fill="#ffffff"/></g>
<path d="M397.5,854.5 Q404.0,866.0 410.5,854.5" fill="none" stroke="#efcf78" stroke-width="1.2"/>
<g transform="translate(404.0,857.0) rotate(0)"><ellipse rx="4.6" ry="3.8" fill="#e4e9f0"/><path d="M-1.0,0.8 L1.0,-0.7 L1.8,2.1 Z" fill="#8f9aac"/><path d="M-1.5,-0.2 L1.1,-2.1 L2.1,1.4 Z" fill="#8f9aac"/><path d="M-2.2,1.8 L-0.3,0.4 L0.4,3.0 Z" fill="#ffffff"/><path d="M-2.8,1.3 L0.0,-0.8 L1.0,3.1 Z" fill="#5a6479"/><path d="M-0.8,-0.8 L2.3,-3.1 L3.4,1.1 Z" fill="#8f9aac"/></g>
<path d="M413.5,846.5 Q420.0,858.0 426.5,846.5" fill="none" stroke="#efcf78" stroke-width="1.2"/>
<g transform="translate(420.0,849.0) rotate(0)"><ellipse rx="5.6" ry="4.3" fill="#e4e9f0"/><path d="M-4.2,-1.7 L-1.1,-4.1 L0.1,0.2 Z" fill="#f3f5f9"/><path d="M-0.2,-1.8 L2.2,-3.6 L3.1,-0.3 Z" fill="#8f9aac"/><path d="M1.3,0.6 L3.6,-1.1 L4.5,2.1 Z" fill="#b9c1ce"/><path d="M-1.7,0.6 L1.6,-1.9 L2.8,2.6 Z" fill="#8f9aac"/><path d="M-0.6,0.4 L2.8,-2.1 L4.0,2.5 Z" fill="#5a6479"/></g>
<path d="M434.5,839.0 Q441.0,850.5 447.5,839.0" fill="none" stroke="#efcf78" stroke-width="1.2"/>
<g transform="translate(441.0,841.5) rotate(0)"><ellipse rx="5.9" ry="4.4" fill="#e4e9f0"/><path d="M-2.8,-0.9 L0.0,-3.0 L1.1,0.9 Z" fill="#ffffff"/><path d="M-4.2,-0.5 L-1.6,-2.5 L-0.6,1.1 Z" fill="#ffffff"/><path d="M-2.5,0.8 L0.3,-1.3 L1.4,2.5 Z" fill="#b9c1ce"/><path d="M-3.2,0.4 L-1.1,-1.2 L-0.3,1.8 Z" fill="#f3f5f9"/><path d="M-0.4,-0.1 L2.5,-2.3 L3.6,1.7 Z" fill="#f3f5f9"/></g>
<path d="M458.5,834.0 Q465.0,845.5 471.5,834.0" fill="none" stroke="#efcf78" stroke-width="1.2"/>
<g transform="translate(465.0,836.5) rotate(0)"><ellipse rx="5.9" ry="4.3" fill="#e4e9f0"/><path d="M-1.4,-1.3 L0.9,-3.1 L1.8,0.2 Z" fill="#ffffff"/><path d="M-2.4,0.2 L0.3,-1.8 L1.3,1.9 Z" fill="#b9c1ce"/><path d="M-0.8,0.7 L2.2,-1.5 L3.3,2.5 Z" fill="#5a6479"/><path d="M-2.0,0.1 L1.6,-2.6 L3.0,2.4 Z" fill="#b9c1ce"/><path d="M-1.3,-1.4 L0.9,-3.0 L1.7,-0.1 Z" fill="#f3f5f9"/></g>
<path d="M569.5,854.5 Q576.0,866.0 582.5,854.5" fill="none" stroke="#efcf78" stroke-width="1.2"/>
<g transform="translate(576.0,857.0) rotate(0)"><ellipse rx="4.6" ry="3.8" fill="#e4e9f0"/><path d="M-0.8,-1.0 L2.2,-3.2 L3.4,0.9 Z" fill="#5a6479"/><path d="M-0.5,-1.8 L2.4,-4.0 L3.5,0.1 Z" fill="#5a6479"/><path d="M-1.0,2.1 L1.6,0.2 L2.5,3.7 Z" fill="#8f9aac"/><path d="M-2.4,-1.6 L-0.3,-3.2 L0.5,-0.2 Z" fill="#b9c1ce"/><path d="M-2.4,-0.5 L-0.1,-2.2 L0.8,1.0 Z" fill="#f3f5f9"/></g>
<path d="M553.5,846.5 Q560.0,858.0 566.5,846.5" fill="none" stroke="#efcf78" stroke-width="1.2"/>
<g transform="translate(560.0,849.0) rotate(0)"><ellipse rx="5.6" ry="4.3" fill="#e4e9f0"/><path d="M-2.2,2.1 L0.1,0.4 L1.0,3.6 Z" fill="#f3f5f9"/><path d="M-0.6,-0.3 L2.5,-2.6 L3.6,1.6 Z" fill="#f3f5f9"/><path d="M-2.9,-0.0 L-0.7,-1.6 L0.1,1.3 Z" fill="#8f9aac"/><path d="M-3.7,1.0 L-1.2,-0.9 L-0.3,2.6 Z" fill="#b9c1ce"/><path d="M-1.9,-0.4 L1.5,-2.9 L2.8,1.8 Z" fill="#5a6479"/></g>
<path d="M532.5,839.0 Q539.0,850.5 545.5,839.0" fill="none" stroke="#efcf78" stroke-width="1.2"/>
<g transform="translate(539.0,841.5) rotate(0)"><ellipse rx="5.9" ry="4.4" fill="#e4e9f0"/><path d="M-2.7,-0.3 L1.0,-3.1 L2.3,1.9 Z" fill="#ffffff"/><path d="M-4.8,-0.6 L-1.1,-3.3 L0.2,1.7 Z" fill="#5a6479"/><path d="M-2.7,1.5 L0.9,-1.2 L2.2,3.8 Z" fill="#6a7589"/><path d="M-2.6,-0.8 L1.3,-3.7 L2.8,1.6 Z" fill="#f3f5f9"/><path d="M-0.9,0.8 L1.4,-0.9 L2.2,2.2 Z" fill="#8f9aac"/></g>
<path d="M508.5,834.0 Q515.0,845.5 521.5,834.0" fill="none" stroke="#efcf78" stroke-width="1.2"/>
<g transform="translate(515.0,836.5) rotate(0)"><ellipse rx="5.9" ry="4.3" fill="#e4e9f0"/><path d="M-0.4,1.8 L1.7,0.2 L2.5,3.1 Z" fill="#f3f5f9"/><path d="M-2.9,1.7 L0.9,-1.1 L2.3,4.1 Z" fill="#f3f5f9"/><path d="M0.4,-1.0 L3.7,-3.5 L5.0,1.1 Z" fill="#6a7589"/><path d="M-1.6,0.1 L1.5,-2.2 L2.7,2.1 Z" fill="#ffffff"/><path d="M-2.9,0.5 L-0.7,-1.1 L0.1,1.9 Z" fill="#ffffff"/></g>
<path d="M483,832 Q490,844 497,832" fill="none" stroke="#efcf78" stroke-width="1.2"/>
<g transform="translate(490.0,834.5) rotate(0)"><ellipse rx="6.0" ry="4.4" fill="#e4e9f0"/><path d="M-1.3,1.8 L0.9,0.2 L1.7,3.1 Z" fill="#5a6479"/><path d="M-3.5,-0.4 L-0.4,-2.7 L0.7,1.5 Z" fill="#f3f5f9"/><path d="M-2.0,1.6 L1.1,-0.8 L2.3,3.6 Z" fill="#8f9aac"/><path d="M-3.8,1.7 L-1.4,-0.1 L-0.5,3.2 Z" fill="#5a6479"/><path d="M-0.8,-0.3 L1.6,-2.1 L2.5,1.2 Z" fill="#5a6479"/></g>
<rect x="403.5" y="793.3" width="173" height="20.4" rx="4" fill="url(#gTier)"/>
<rect x="414.3" y="797.5" width="44.19999999999999" height="15.5" fill="none" stroke="#d4a653" stroke-width="0.7"/>
<rect x="458.5" y="797.5" width="63.0" height="15.5" fill="none" stroke="#d4a653" stroke-width="0.7"/>
<rect x="521.5" y="797.5" width="44.200000000000045" height="15.5" fill="none" stroke="#d4a653" stroke-width="0.7"/>
<rect x="403.5" y="812.6" width="173" height="1.5" fill="#c69643"/>
<path d="M427,792.5 L427,781 Q427,775 433,775 L547.5,775 Q553.5,775 553.5,781 L553.5,792.5 Z" fill="url(#gTier2)"/>
<rect x="436" y="783" width="31.69999999999999" height="9.5" fill="none" stroke="#d2a34f" stroke-width="0.6"/>
<rect x="467.7" y="783" width="44.10000000000002" height="9.5" fill="none" stroke="#d2a34f" stroke-width="0.6"/>
<rect x="511.8" y="783" width="33.19999999999999" height="9.5" fill="none" stroke="#d2a34f" stroke-width="0.6"/>
<rect x="427" y="791.8" width="126.5" height="1.4" fill="#c79543"/>
<g transform="translate(431.0,795.8) rotate(0)"><ellipse rx="3.6" ry="2.6" fill="#e4e9f0"/><path d="M-1.0,0.1 L0.9,-1.3 L1.6,1.3 Z" fill="#6a7589"/><path d="M-1.5,0.3 L-0.3,-0.7 L0.2,1.1 Z" fill="#f3f5f9"/><path d="M-0.6,-1.3 L1.3,-2.7 L2.0,-0.1 Z" fill="#ffffff"/><path d="M-3.4,0.5 L-1.4,-1.0 L-0.7,1.8 Z" fill="#4d576c"/><path d="M-0.9,0.1 L0.4,-0.9 L0.9,0.9 Z" fill="#3c4558"/></g>
<g transform="translate(448.0,795.8) rotate(0)"><ellipse rx="3.6" ry="2.6" fill="#e4e9f0"/><path d="M-1.5,0.3 L-0.2,-0.7 L0.3,1.1 Z" fill="#3c4558"/><path d="M-0.4,0.1 L1.8,-1.6 L2.7,1.5 Z" fill="#4d576c"/><path d="M-2.5,0.5 L-0.6,-1.0 L0.2,1.6 Z" fill="#f3f5f9"/><path d="M-2.2,-1.0 L-0.8,-2.1 L-0.2,-0.1 Z" fill="#6a7589"/><path d="M-0.4,0.4 L1.9,-1.3 L2.7,1.8 Z" fill="#f3f5f9"/></g>
<g transform="translate(468.5,795.8) rotate(0)"><ellipse rx="3.6" ry="2.6" fill="#e4e9f0"/><path d="M-0.6,-1.1 L0.6,-2.1 L1.1,-0.3 Z" fill="#8f9aac"/><path d="M-1.5,-0.8 L0.5,-2.3 L1.2,0.5 Z" fill="#8f9aac"/><path d="M-0.2,1.4 L1.4,0.2 L1.9,2.3 Z" fill="#f3f5f9"/><path d="M-0.7,0.1 L1.3,-1.4 L2.1,1.4 Z" fill="#f3f5f9"/><path d="M-0.3,-0.2 L1.0,-1.2 L1.5,0.6 Z" fill="#f3f5f9"/></g>
<g transform="translate(489.7,795.8) rotate(0)"><ellipse rx="3.6" ry="2.6" fill="#e4e9f0"/><path d="M-2.5,-0.2 L-0.5,-1.8 L0.3,1.0 Z" fill="#ffffff"/><path d="M-0.9,-0.1 L1.3,-1.8 L2.1,1.3 Z" fill="#4d576c"/><path d="M-0.1,0.4 L1.4,-0.6 L1.9,1.3 Z" fill="#4d576c"/><path d="M-0.7,-0.4 L0.7,-1.4 L1.2,0.5 Z" fill="#6a7589"/><path d="M-1.1,0.6 L0.8,-0.8 L1.5,1.8 Z" fill="#8f9aac"/></g>
<g transform="translate(510.0,795.8) rotate(0)"><ellipse rx="3.6" ry="2.6" fill="#e4e9f0"/><path d="M-0.3,-0.6 L1.7,-2.0 L2.4,0.7 Z" fill="#f3f5f9"/><path d="M-0.6,-0.8 L1.1,-2.1 L1.8,0.3 Z" fill="#ffffff"/><path d="M-1.9,-1.3 L-0.2,-2.6 L0.5,-0.2 Z" fill="#f3f5f9"/><path d="M-1.4,1.4 L0.7,-0.2 L1.5,2.7 Z" fill="#8f9aac"/><path d="M-1.9,-0.2 L0.3,-1.8 L1.1,1.2 Z" fill="#4d576c"/></g>
<g transform="translate(531.0,795.8) rotate(0)"><ellipse rx="3.6" ry="2.6" fill="#e4e9f0"/><path d="M-1.0,0.1 L0.9,-1.4 L1.6,1.2 Z" fill="#4d576c"/><path d="M-1.2,0.3 L0.1,-0.7 L0.5,1.1 Z" fill="#3c4558"/><path d="M-0.0,0.8 L1.3,-0.2 L1.7,1.6 Z" fill="#3c4558"/><path d="M-1.4,-0.2 L0.4,-1.6 L1.1,0.9 Z" fill="#6a7589"/><path d="M-0.7,1.4 L1.1,0.1 L1.8,2.5 Z" fill="#f3f5f9"/></g>
<g transform="translate(549.5,795.8) rotate(0)"><ellipse rx="3.6" ry="2.6" fill="#e4e9f0"/><path d="M0.1,0.6 L2.3,-1.1 L3.1,1.9 Z" fill="#8f9aac"/><path d="M-0.6,0.3 L0.8,-0.8 L1.3,1.1 Z" fill="#3c4558"/><path d="M0.4,-0.4 L2.4,-2.0 L3.2,0.8 Z" fill="#3c4558"/><path d="M-0.5,-0.9 L1.0,-2.1 L1.6,0.0 Z" fill="#3c4558"/><path d="M-0.3,0.9 L1.7,-0.5 L2.4,2.1 Z" fill="#6a7589"/></g>
<ellipse cx="441.5" cy="771" rx="7.0" ry="5.5" fill="#f1f3f7" stroke="#c9cfd8" stroke-width="0.6"/><path d="M444.7,772.1 L442.8,773.5 L446.4,774.8 Z" fill="#c3cad6"/><path d="M444.7,772.1 L448.4,771.0 L446.4,774.8 Z" fill="#56607a" opacity="0.85"/><path d="M442.8,773.5 L440.2,773.5 L441.5,776.4 Z" fill="#f7f9fb"/><path d="M442.8,773.5 L446.4,774.8 L441.5,776.4 Z" fill="#56607a" opacity="0.85"/><path d="M440.2,773.5 L438.3,772.1 L436.6,774.8 Z" fill="#f7f9fb"/><path d="M440.2,773.5 L441.5,776.4 L436.6,774.8 Z" fill="#8892a6" opacity="0.85"/><path d="M438.3,772.1 L438.3,769.9 L434.6,771.0 Z" fill="#6a748a"/><path d="M438.3,772.1 L436.6,774.8 L434.6,771.0 Z" fill="#c4cbd7" opacity="0.85"/><path d="M438.3,769.9 L440.2,768.5 L436.6,767.2 Z" fill="#b7bfcc"/><path d="M438.3,769.9 L434.6,771.0 L436.6,767.2 Z" fill="#56607a" opacity="0.85"/><path d="M440.2,768.5 L442.8,768.5 L441.5,765.6 Z" fill="#b7bfcc"/><path d="M440.2,768.5 L436.6,767.2 L441.5,765.6 Z" fill="#f4f6f9" opacity="0.85"/><path d="M442.8,768.5 L444.7,769.9 L446.4,767.2 Z" fill="#c3cad6"/><path d="M442.8,768.5 L441.5,765.6 L446.4,767.2 Z" fill="#f4f6f9" opacity="0.85"/><path d="M444.7,769.9 L444.7,772.1 L448.4,771.0 Z" fill="#eef1f6"/><path d="M444.7,769.9 L446.4,767.2 L448.4,771.0 Z" fill="#c4cbd7" opacity="0.85"/><polygon points="444.7,772.1 442.8,773.5 440.2,773.5 438.3,772.1 438.3,769.9 440.2,768.5 442.8,768.5 444.7,769.9" fill="#f6f8fb" stroke="#b7c0cd" stroke-width="0.5"/><path d="M439.0,771.0 L441.5,768.7 L443.0,772.7 Z" fill="#8c96a9"/><path d="M441.5,771.6 L443.3,770.1 L444.3,772.9 Z" fill="#6f7a90"/><path d="M438.5,770.2 L441.1,767.9 L442.7,772.0 Z" fill="#8c96a9"/>
<ellipse cx="538.5" cy="771" rx="7.0" ry="5.5" fill="#f1f3f7" stroke="#c9cfd8" stroke-width="0.6"/><path d="M541.7,772.1 L539.8,773.5 L543.4,774.8 Z" fill="#c3cad6"/><path d="M541.7,772.1 L545.4,771.0 L543.4,774.8 Z" fill="#c4cbd7" opacity="0.85"/><path d="M539.8,773.5 L537.2,773.5 L538.5,776.4 Z" fill="#dfe4ec"/><path d="M539.8,773.5 L543.4,774.8 L538.5,776.4 Z" fill="#f4f6f9" opacity="0.85"/><path d="M537.2,773.5 L535.3,772.1 L533.6,774.8 Z" fill="#6a748a"/><path d="M537.2,773.5 L538.5,776.4 L533.6,774.8 Z" fill="#c4cbd7" opacity="0.85"/><path d="M535.3,772.1 L535.3,769.9 L531.6,771.0 Z" fill="#f7f9fb"/><path d="M535.3,772.1 L533.6,774.8 L531.6,771.0 Z" fill="#e8ecf2" opacity="0.85"/><path d="M535.3,769.9 L537.2,768.5 L533.6,767.2 Z" fill="#f7f9fb"/><path d="M535.3,769.9 L531.6,771.0 L533.6,767.2 Z" fill="#ffffff" opacity="0.85"/><path d="M537.2,768.5 L539.8,768.5 L538.5,765.6 Z" fill="#9aa4b6"/><path d="M537.2,768.5 L533.6,767.2 L538.5,765.6 Z" fill="#e8ecf2" opacity="0.85"/><path d="M539.8,768.5 L541.7,769.9 L543.4,767.2 Z" fill="#c3cad6"/><path d="M539.8,768.5 L538.5,765.6 L543.4,767.2 Z" fill="#8892a6" opacity="0.85"/><path d="M541.7,769.9 L541.7,772.1 L545.4,771.0 Z" fill="#dfe4ec"/><path d="M541.7,769.9 L543.4,767.2 L545.4,771.0 Z" fill="#8892a6" opacity="0.85"/><polygon points="541.7,772.1 539.8,773.5 537.2,773.5 535.3,772.1 535.3,769.9 537.2,768.5 539.8,768.5 541.7,769.9" fill="#f6f8fb" stroke="#b7c0cd" stroke-width="0.5"/><path d="M536.8,770.9 L538.9,769.1 L540.2,772.4 Z" fill="#4f596e"/><path d="M538.5,770.4 L540.0,769.0 L541.0,771.5 Z" fill="#6f7a90"/><path d="M536.1,770.7 L537.9,769.1 L538.9,771.9 Z" fill="#6f7a90"/>
<ellipse cx="455.5" cy="769" rx="10.5" ry="7.5" fill="#f1f3f7" stroke="#c9cfd8" stroke-width="0.6"/><path d="M460.4,770.4 L457.5,772.5 L462.8,774.2 Z" fill="#6a748a"/><path d="M460.4,770.4 L465.8,769.0 L462.8,774.2 Z" fill="#f4f6f9" opacity="0.85"/><path d="M457.5,772.5 L453.5,772.5 L455.5,776.4 Z" fill="#b7bfcc"/><path d="M457.5,772.5 L462.8,774.2 L455.5,776.4 Z" fill="#56607a" opacity="0.85"/><path d="M453.5,772.5 L450.6,770.4 L448.2,774.2 Z" fill="#6a748a"/><path d="M453.5,772.5 L455.5,776.4 L448.2,774.2 Z" fill="#f4f6f9" opacity="0.85"/><path d="M450.6,770.4 L450.6,767.6 L445.2,769.0 Z" fill="#b7bfcc"/><path d="M450.6,770.4 L448.2,774.2 L445.2,769.0 Z" fill="#f4f6f9" opacity="0.85"/><path d="M450.6,767.6 L453.5,765.5 L448.2,763.8 Z" fill="#c3cad6"/><path d="M450.6,767.6 L445.2,769.0 L448.2,763.8 Z" fill="#c4cbd7" opacity="0.85"/><path d="M453.5,765.5 L457.5,765.5 L455.5,761.6 Z" fill="#b7bfcc"/><path d="M453.5,765.5 L448.2,763.8 L455.5,761.6 Z" fill="#f4f6f9" opacity="0.85"/><path d="M457.5,765.5 L460.4,767.6 L462.8,763.8 Z" fill="#6a748a"/><path d="M457.5,765.5 L455.5,761.6 L462.8,763.8 Z" fill="#ffffff" opacity="0.85"/><path d="M460.4,767.6 L460.4,770.4 L465.8,769.0 Z" fill="#eef1f6"/><path d="M460.4,767.6 L462.8,763.8 L465.8,769.0 Z" fill="#c4cbd7" opacity="0.85"/><polygon points="460.4,770.4 457.5,772.5 453.5,772.5 450.6,770.4 450.6,767.6 453.5,765.5 457.5,765.5 460.4,767.6" fill="#f6f8fb" stroke="#b7c0cd" stroke-width="0.5"/><path d="M454.8,769.4 L456.4,768.0 L457.4,770.6 Z" fill="#4f596e"/><path d="M452.1,767.8 L454.0,766.1 L455.2,769.2 Z" fill="#8c96a9"/><path d="M452.5,767.7 L454.2,766.2 L455.2,768.8 Z" fill="#6f7a90"/>
<ellipse cx="524.5" cy="769" rx="10.5" ry="7.5" fill="#f1f3f7" stroke="#c9cfd8" stroke-width="0.6"/><path d="M529.4,770.4 L526.5,772.5 L531.8,774.2 Z" fill="#6a748a"/><path d="M529.4,770.4 L534.8,769.0 L531.8,774.2 Z" fill="#8892a6" opacity="0.85"/><path d="M526.5,772.5 L522.5,772.5 L524.5,776.4 Z" fill="#f7f9fb"/><path d="M526.5,772.5 L531.8,774.2 L524.5,776.4 Z" fill="#f4f6f9" opacity="0.85"/><path d="M522.5,772.5 L519.6,770.4 L517.2,774.2 Z" fill="#f7f9fb"/><path d="M522.5,772.5 L524.5,776.4 L517.2,774.2 Z" fill="#8892a6" opacity="0.85"/><path d="M519.6,770.4 L519.6,767.6 L514.2,769.0 Z" fill="#c3cad6"/><path d="M519.6,770.4 L517.2,774.2 L514.2,769.0 Z" fill="#56607a" opacity="0.85"/><path d="M519.6,767.6 L522.5,765.5 L517.2,763.8 Z" fill="#dfe4ec"/><path d="M519.6,767.6 L514.2,769.0 L517.2,763.8 Z" fill="#8892a6" opacity="0.85"/><path d="M522.5,765.5 L526.5,765.5 L524.5,761.6 Z" fill="#6a748a"/><path d="M522.5,765.5 L517.2,763.8 L524.5,761.6 Z" fill="#8892a6" opacity="0.85"/><path d="M526.5,765.5 L529.4,767.6 L531.8,763.8 Z" fill="#f7f9fb"/><path d="M526.5,765.5 L524.5,761.6 L531.8,763.8 Z" fill="#56607a" opacity="0.85"/><path d="M529.4,767.6 L529.4,770.4 L534.8,769.0 Z" fill="#f7f9fb"/><path d="M529.4,767.6 L531.8,763.8 L534.8,769.0 Z" fill="#f4f6f9" opacity="0.85"/><polygon points="529.4,770.4 526.5,772.5 522.5,772.5 519.6,770.4 519.6,767.6 522.5,765.5 526.5,765.5 529.4,767.6" fill="#f6f8fb" stroke="#b7c0cd" stroke-width="0.5"/><path d="M522.3,769.0 L524.5,767.0 L525.8,770.5 Z" fill="#8c96a9"/><path d="M521.9,769.7 L523.7,768.1 L524.7,770.9 Z" fill="#4f596e"/><path d="M522.4,768.8 L524.6,766.8 L526.0,770.4 Z" fill="#8c96a9"/>
<ellipse cx="490.3" cy="767" rx="21.0" ry="10.5" fill="#f1f3f7" stroke="#c9cfd8" stroke-width="0.6"/><path d="M500.0,769.0 L494.3,771.9 L504.9,774.3 Z" fill="#9aa4b6"/><path d="M500.0,769.0 L510.9,767.0 L504.9,774.3 Z" fill="#8892a6" opacity="0.85"/><path d="M494.3,771.9 L486.3,771.9 L490.3,777.3 Z" fill="#f7f9fb"/><path d="M494.3,771.9 L504.9,774.3 L490.3,777.3 Z" fill="#ffffff" opacity="0.85"/><path d="M486.3,771.9 L480.6,769.0 L475.7,774.3 Z" fill="#b7bfcc"/><path d="M486.3,771.9 L490.3,777.3 L475.7,774.3 Z" fill="#c4cbd7" opacity="0.85"/><path d="M480.6,769.0 L480.6,765.0 L469.7,767.0 Z" fill="#f7f9fb"/><path d="M480.6,769.0 L475.7,774.3 L469.7,767.0 Z" fill="#c4cbd7" opacity="0.85"/><path d="M480.6,765.0 L486.3,762.1 L475.7,759.7 Z" fill="#f7f9fb"/><path d="M480.6,765.0 L469.7,767.0 L475.7,759.7 Z" fill="#c4cbd7" opacity="0.85"/><path d="M486.3,762.1 L494.3,762.1 L490.3,756.7 Z" fill="#b7bfcc"/><path d="M486.3,762.1 L475.7,759.7 L490.3,756.7 Z" fill="#c4cbd7" opacity="0.85"/><path d="M494.3,762.1 L500.0,765.0 L504.9,759.7 Z" fill="#f7f9fb"/><path d="M494.3,762.1 L490.3,756.7 L504.9,759.7 Z" fill="#ffffff" opacity="0.85"/><path d="M500.0,765.0 L500.0,769.0 L510.9,767.0 Z" fill="#c3cad6"/><path d="M500.0,765.0 L504.9,759.7 L510.9,767.0 Z" fill="#c4cbd7" opacity="0.85"/><polygon points="500.0,769.0 494.3,771.9 486.3,771.9 480.6,769.0 480.6,765.0 486.3,762.1 494.3,762.1 500.0,765.0" fill="#f6f8fb" stroke="#b7c0cd" stroke-width="0.5"/><path d="M493.6,768.3 L495.9,766.3 L497.3,770.0 Z" fill="#6f7a90"/><path d="M482.5,768.3 L484.7,766.3 L486.0,769.8 Z" fill="#6f7a90"/><path d="M494.8,766.9 L496.4,765.4 L497.4,768.0 Z" fill="#8c96a9"/>
<path d="M431.6,781.5 L432.4,769 L433.7,767.5 L434.9,769 L436.4,781.5 Z" fill="#d9a239"/>
<path d="M433.1,780 L433.5,770 L434.2,770 L434.3,780 Z" fill="#f2d475"/>
<path d="M445.6,781.5 L446.4,769 L447.7,767.5 L448.9,769 L450.4,781.5 Z" fill="#d9a239"/>
<path d="M447.1,780 L447.5,770 L448.2,770 L448.3,780 Z" fill="#f2d475"/>
<path d="M460.6,781.5 L461.4,769 L462.7,767.5 L463.9,769 L465.4,781.5 Z" fill="#d9a239"/>
<path d="M462.1,780 L462.5,770 L463.2,770 L463.3,780 Z" fill="#f2d475"/>
<path d="M467.6,781.5 L468.4,769 L469.7,767.5 L470.9,769 L472.4,781.5 Z" fill="#d9a239"/>
<path d="M469.1,780 L469.5,770 L470.2,770 L470.3,780 Z" fill="#f2d475"/>
<path d="M475.6,781.5 L476.4,769 L477.7,767.5 L478.9,769 L480.4,781.5 Z" fill="#d9a239"/>
<path d="M477.1,780 L477.5,770 L478.2,770 L478.3,780 Z" fill="#f2d475"/>
<path d="M499.6,781.5 L500.4,769 L501.7,767.5 L502.9,769 L504.4,781.5 Z" fill="#d9a239"/>
<path d="M501.1,780 L501.5,770 L502.2,770 L502.3,780 Z" fill="#f2d475"/>
<path d="M507.6,781.5 L508.4,769 L509.7,767.5 L510.9,769 L512.4,781.5 Z" fill="#d9a239"/>
<path d="M509.1,780 L509.5,770 L510.2,770 L510.3,780 Z" fill="#f2d475"/>
<path d="M514.6,781.5 L515.4,769 L516.7,767.5 L517.9,769 L519.4,781.5 Z" fill="#d9a239"/>
<path d="M516.1,780 L516.5,770 L517.2,770 L517.3,780 Z" fill="#f2d475"/>
<path d="M529.6,781.5 L530.4,769 L531.7,767.5 L532.9,769 L534.4,781.5 Z" fill="#d9a239"/>
<path d="M531.1,780 L531.5,770 L532.2,770 L532.3,780 Z" fill="#f2d475"/>
<path d="M543.6,781.5 L544.4,769 L545.7,767.5 L546.9,769 L548.4,781.5 Z" fill="#d9a239"/>
<path d="M545.1,780 L545.5,770 L546.2,770 L546.3,780 Z" fill="#f2d475"/>
</g>
</svg>
</body></html>
